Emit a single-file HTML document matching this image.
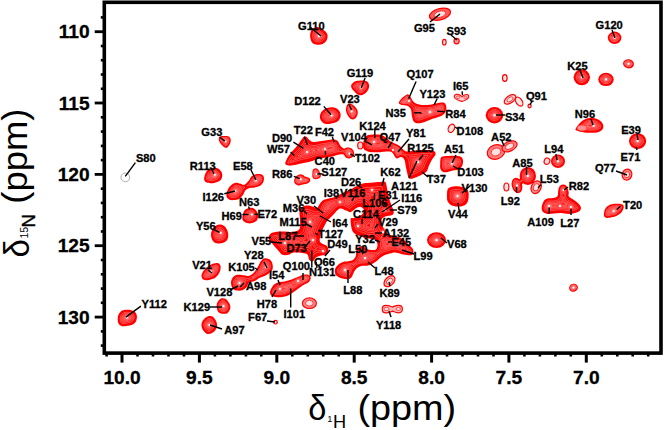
<!DOCTYPE html>
<html><head><meta charset="utf-8"><style>
html,body{margin:0;padding:0;background:#fff;}
body{width:664px;height:430px;overflow:hidden;}
svg{display:block;}
.lab text{font-family:"Liberation Sans",sans-serif;font-weight:bold;font-size:10.8px;fill:#000;stroke:#000;stroke-width:0.3px;}
.tk text{font-family:"Liberation Sans",sans-serif;font-weight:bold;font-size:18.4px;fill:#000;stroke:#000;stroke-width:0.3px;}
.tt text{font-family:"Liberation Sans",sans-serif;font-weight:normal;fill:#000;}
</style></head><body>
<svg width="664" height="430" viewBox="0 0 664 430">
<defs>
<radialGradient id="pc" cx="50%" cy="50%" r="50%">
<stop offset="0" stop-color="#ffd0d0" stop-opacity="0.95"/>
<stop offset="0.35" stop-color="#ff7070" stop-opacity="0.6"/>
<stop offset="1" stop-color="#ff0000" stop-opacity="0"/>
</radialGradient>
<filter id="cont" x="0" y="0" width="664" height="430" filterUnits="userSpaceOnUse" color-interpolation-filters="sRGB">
<feGaussianBlur in="SourceAlpha" stdDeviation="3" result="b"/>
<feComponentTransfer in="b" result="lines">
<feFuncA type="table" tableValues="0 0 0 0 0 0 0 0 0 0.8 0 0.8 0 0.8 0 0.8 0 0.8 0.8 0"/>
</feComponentTransfer>
<feFlood flood-color="#ffb8b8" result="f"/>
<feComposite in="f" in2="lines" operator="in" result="fl"/>
<feComposite in="fl" in2="SourceAlpha" operator="in" result="fl2"/>
<feMerge><feMergeNode in="SourceGraphic"/><feMergeNode in="fl2"/></feMerge>
</filter>
</defs>
<g class="pk">
<g>
<ellipse cx="614.6" cy="37.8" rx="6.8" ry="6.2" fill="#ff0000"/>
<ellipse cx="581.8" cy="77.3" rx="8.2" ry="8.0" fill="#ff0000"/>
<ellipse cx="606.0" cy="79.4" rx="7.7" ry="6.7" fill="#ff0000"/>
<ellipse cx="494.5" cy="115.2" rx="8.8" ry="8.2" fill="#ff0000"/>
<ellipse cx="637.6" cy="141.1" rx="8.6" ry="7.9" fill="#ff0000"/>
<ellipse cx="558.0" cy="161.3" rx="7.0" ry="6.8" fill="#ff0000"/>
<ellipse cx="527.8" cy="175.9" rx="8.2" ry="9.0" fill="#ff0000"/>
<ellipse cx="517.0" cy="185.5" rx="5.2" ry="7.8" transform="rotate(-15 517.0 185.5)" fill="#ff0000"/>
<ellipse cx="436.5" cy="240.1" rx="9.5" ry="7.9" fill="#ff0000"/>
<ellipse cx="573.5" cy="287.7" rx="4.5" ry="4.0" transform="rotate(-20 573.5 287.7)" fill="#ff0000"/>
<ellipse cx="521.5" cy="181.0" rx="3.6" ry="3.0" transform="rotate(-40 521.5 181.0)" fill="#ff0000"/>
<ellipse cx="628.5" cy="63.8" rx="5.5" ry="4.6" transform="rotate(10 628.5 63.8)" fill="#ff0000"/>
<path d="M285.3,163.8 C285.0,162.6 286.1,160.4 287.1,158.4 C288.2,156.4 289.9,154.1 291.6,152.0 C293.3,149.9 295.4,147.8 297.1,145.7 C298.8,143.6 300.4,140.9 301.6,139.4 C302.8,137.9 303.4,136.8 304.3,136.4 C305.2,136.1 306.1,136.7 307.0,137.3 C307.9,138.0 308.6,139.5 309.7,140.3 C310.8,141.1 311.6,141.9 313.3,142.1 C315.0,142.2 317.3,141.5 319.6,141.2 C321.9,140.9 324.6,140.6 326.9,140.3 C329.2,140.0 331.4,139.1 333.2,139.2 C335.0,139.3 336.5,139.9 337.7,141.0 C338.9,142.1 339.3,144.4 340.4,145.7 C341.4,147.0 342.9,148.3 344.0,148.6 C345.1,148.9 345.6,147.6 346.8,147.5 C348.0,147.4 350.1,147.4 351.3,148.2 C352.5,148.9 353.7,150.6 354.0,152.0 C354.3,153.4 353.9,155.5 353.1,156.6 C352.4,157.7 350.7,158.2 349.5,158.4 C348.3,158.6 346.8,158.2 345.8,157.5 C344.8,156.8 344.6,155.0 343.5,154.5 C342.4,154.0 341.1,154.3 339.5,154.5 C337.9,154.7 336.2,155.4 334.1,155.9 C332.0,156.4 329.3,157.1 326.9,157.5 C324.5,157.9 321.7,158.0 319.6,158.4 C317.5,158.8 316.0,159.6 314.2,160.2 C312.4,160.8 310.6,161.6 308.8,162.0 C307.0,162.4 305.5,162.5 303.4,162.9 C301.3,163.3 298.5,164.2 296.1,164.7 C293.7,165.1 290.7,165.8 288.9,165.6 C287.1,165.4 285.6,165.0 285.3,163.8Z" fill="#ff0000"/>
<path d="M363.4,141.7 C363.9,139.7 365.0,137.3 366.2,136.2 C367.4,135.0 368.8,135.1 370.4,134.8 C372.0,134.5 374.0,134.5 375.9,134.5 C377.8,134.5 379.9,134.5 381.5,135.0 C383.1,135.5 384.3,136.6 385.7,137.6 C387.1,138.6 388.3,140.0 389.9,141.0 C391.5,142.0 393.9,143.0 395.5,143.8 C397.1,144.6 398.4,145.0 399.7,145.9 C401.0,146.8 402.0,148.5 403.2,149.4 C404.4,150.3 404.9,151.3 406.6,151.5 C408.3,151.7 411.3,151.0 413.6,150.8 C415.9,150.6 418.0,150.2 420.6,150.1 C423.2,150.0 426.7,149.9 429.0,150.1 C431.3,150.3 433.6,150.7 434.6,151.5 C435.7,152.3 435.8,153.6 435.3,155.0 C434.8,156.4 432.9,158.2 431.8,159.9 C430.8,161.7 429.8,163.6 429.0,165.5 C428.2,167.4 427.8,169.7 426.9,171.1 C426.0,172.5 424.9,172.9 423.4,173.8 C421.9,174.7 419.7,175.8 417.8,176.6 C415.9,177.4 413.7,178.5 412.2,178.7 C410.7,178.9 409.5,178.9 408.7,178.0 C407.9,177.1 407.8,175.0 407.3,173.2 C406.8,171.3 406.4,169.1 405.9,166.9 C405.4,164.7 405.3,161.5 404.5,159.9 C403.7,158.3 402.4,157.3 401.1,157.1 C399.8,156.9 397.9,158.6 396.9,158.5 C395.8,158.4 395.5,157.3 394.8,156.4 C394.1,155.5 393.5,153.7 392.7,152.9 C391.9,152.1 391.1,151.7 389.9,151.5 C388.7,151.3 387.3,151.4 385.7,151.5 C384.1,151.6 382.4,152.1 380.1,152.2 C377.8,152.3 374.0,152.4 371.7,152.2 C369.4,152.0 367.6,151.5 366.2,150.8 C364.8,150.1 363.9,149.5 363.4,148.0 C362.9,146.5 362.9,143.7 363.4,141.7Z" fill="#ff0000"/>
<path d="M268.7,238.0 C268.7,236.2 269.7,233.9 272.0,232.8 C274.3,231.7 279.1,231.6 282.5,231.5 C285.9,231.4 289.9,232.4 292.7,232.0 C295.5,231.6 298.3,231.0 299.5,229.0 C300.7,227.0 300.0,223.0 300.0,220.0 C300.0,217.0 299.1,213.2 299.6,211.0 C300.1,208.8 301.7,207.4 303.0,206.5 C304.3,205.6 305.8,205.5 307.4,205.5 C309.0,205.5 311.1,206.1 312.7,206.5 C314.3,206.9 315.8,208.5 317.0,208.0 C318.2,207.5 318.9,204.8 320.0,203.5 C321.1,202.2 322.0,200.8 323.5,200.0 C325.0,199.2 326.9,199.1 329.0,198.5 C331.1,197.9 333.3,197.6 336.0,196.5 C338.7,195.4 342.8,192.9 345.2,191.8 C347.6,190.7 348.8,190.6 350.5,189.7 C352.2,188.8 354.1,187.4 355.7,186.5 C357.3,185.6 359.0,185.1 360.4,184.5 C361.8,183.9 362.3,183.5 364.1,183.2 C365.9,182.9 368.8,182.9 371.4,182.7 C374.0,182.5 377.5,182.2 379.8,182.1 C382.1,181.9 383.9,181.2 385.0,181.8 C386.1,182.4 385.9,183.1 386.5,185.5 C387.1,187.9 387.8,192.9 388.5,196.0 C389.2,199.1 390.1,201.4 391.0,204.0 C391.9,206.6 393.5,209.5 393.7,211.3 C393.9,213.2 393.6,214.2 392.2,215.1 C390.8,216.0 387.2,215.8 385.4,216.6 C383.6,217.4 382.0,217.9 381.6,219.7 C381.2,221.5 382.0,224.8 383.1,227.2 C384.2,229.6 386.6,232.5 388.4,234.0 C390.2,235.5 392.0,235.4 394.0,236.0 C396.0,236.6 398.1,236.5 400.5,237.8 C402.9,239.1 406.1,242.1 408.1,243.9 C410.1,245.7 411.7,247.0 412.6,248.4 C413.5,249.8 413.6,251.1 413.3,252.2 C413.1,253.3 412.7,254.8 411.1,255.2 C409.5,255.6 406.2,254.9 403.5,254.4 C400.8,253.9 397.0,252.5 394.8,252.4 C392.6,252.3 391.9,253.1 390.1,253.6 C388.4,254.1 386.0,254.5 384.3,255.3 C382.6,256.1 380.9,257.4 379.7,258.3 C378.5,259.2 378.3,259.8 377.3,260.6 C376.3,261.4 375.2,262.1 373.8,262.9 C372.4,263.7 370.8,264.7 369.2,265.2 C367.6,265.7 366.1,265.6 364.5,265.8 C362.9,266.0 361.4,265.7 359.9,266.4 C358.3,267.1 356.6,268.1 355.2,269.9 C353.8,271.6 352.8,275.3 351.7,276.9 C350.6,278.4 349.9,278.9 348.3,279.2 C346.8,279.5 344.3,279.2 342.4,278.6 C340.4,278.0 337.9,276.8 336.6,275.7 C335.4,274.6 335.1,273.5 334.9,272.2 C334.7,270.9 334.8,269.5 335.5,268.1 C336.2,266.8 337.6,265.2 339.0,264.1 C340.4,263.0 342.1,262.2 343.6,261.7 C345.2,261.2 346.8,261.5 348.3,261.2 C349.9,260.9 351.6,260.9 352.9,260.0 C354.1,259.1 355.2,257.5 355.8,255.9 C356.4,254.3 355.9,252.0 356.4,250.5 C356.9,249.0 357.9,247.8 359.0,247.0 C360.1,246.2 361.7,245.7 363.0,246.0 C364.3,246.3 365.5,248.3 367.0,249.0 C368.5,249.7 370.5,249.9 372.0,250.0 C373.5,250.1 375.1,250.3 376.0,249.5 C376.9,248.7 377.5,246.5 377.5,245.0 C377.5,243.5 376.9,241.5 376.0,240.5 C375.1,239.5 373.7,239.3 372.0,239.0 C370.3,238.7 367.6,238.8 366.0,238.5 C364.4,238.2 364.3,237.6 362.7,237.0 C361.1,236.4 358.4,235.9 356.6,234.8 C354.8,233.7 353.1,232.8 352.1,230.2 C351.1,227.6 350.4,221.0 350.6,219.0 C350.9,217.0 352.4,218.4 353.6,218.1 C354.8,217.8 356.6,217.6 358.0,217.0 C359.4,216.4 361.0,215.7 362.0,214.5 C363.0,213.3 364.2,211.3 364.0,210.0 C363.8,208.7 362.3,207.2 360.9,206.9 C359.5,206.7 357.4,207.6 355.7,208.5 C354.0,209.4 352.1,211.8 350.5,212.2 C348.9,212.5 348.1,211.2 346.3,210.6 C344.6,210.0 342.1,207.9 340.0,208.5 C337.9,209.1 335.2,212.8 333.6,214.4 C332.0,216.0 331.1,216.9 330.1,217.9 C329.1,218.9 328.4,219.3 327.5,220.5 C326.6,221.7 325.8,223.3 324.9,224.9 C324.0,226.5 323.0,228.3 322.3,230.1 C321.6,231.8 320.9,233.7 320.5,235.4 C320.1,237.2 319.6,239.3 319.7,240.6 C319.8,241.9 320.2,242.3 321.4,243.2 C322.5,244.1 325.4,244.6 326.6,245.8 C327.8,247.0 328.4,248.8 328.4,250.2 C328.4,251.6 327.8,253.6 326.6,254.5 C325.4,255.4 323.1,255.0 321.4,255.4 C319.7,255.8 317.6,256.2 316.2,257.2 C314.8,258.2 313.9,261.1 312.7,261.5 C311.5,261.9 310.1,261.0 309.2,259.8 C308.3,258.6 308.6,255.6 307.4,254.5 C306.2,253.4 304.4,253.3 302.0,253.0 C299.6,252.7 294.9,252.4 292.7,252.7 C290.5,253.0 290.3,254.5 288.6,254.8 C286.9,255.2 284.2,255.5 282.5,254.8 C280.8,254.1 280.1,252.6 278.4,250.7 C276.7,248.8 273.8,245.6 272.2,243.5 C270.6,241.4 268.7,239.8 268.7,238.0Z" fill="#ff0000"/>
<path d="M541.7,207.0 C541.9,205.3 542.7,202.8 543.6,201.4 C544.5,200.0 545.8,199.2 547.3,198.6 C548.8,198.0 551.2,198.5 552.9,198.1 C554.6,197.7 556.6,197.8 557.5,196.3 C558.4,194.8 557.9,191.1 558.4,189.3 C558.9,187.5 559.4,186.4 560.3,185.6 C561.2,184.8 562.5,184.4 563.6,184.6 C564.7,184.8 565.9,185.2 566.8,186.5 C567.6,187.8 568.4,190.5 568.7,192.1 C569.0,193.7 568.1,195.2 568.7,196.3 C569.3,197.5 571.0,198.0 572.4,199.0 C573.8,200.0 575.6,201.0 577.0,202.3 C578.4,203.6 580.3,205.6 580.8,207.0 C581.3,208.4 580.7,209.7 579.8,210.7 C578.9,211.7 577.1,212.5 575.2,213.0 C573.4,213.5 571.0,213.9 568.7,213.9 C566.4,213.9 563.7,213.1 561.2,213.0 C558.7,212.9 556.1,213.3 553.8,213.5 C551.5,213.7 549.2,214.2 547.3,213.9 C545.4,213.6 543.5,212.8 542.6,211.6 C541.7,210.4 541.5,208.7 541.7,207.0Z" fill="#ff0000"/>
<path d="M310.5,32.6 C310.8,31.5 311.2,30.3 312.0,29.5 C312.8,28.7 313.9,28.0 315.0,27.6 C316.1,27.2 317.1,26.9 318.5,27.3 C319.9,27.7 321.8,28.9 323.1,29.8 C324.5,30.7 325.9,31.8 326.6,32.9 C327.4,33.9 327.6,34.9 327.6,36.1 C327.6,37.3 327.4,39.0 326.6,40.3 C325.9,41.6 324.5,43.0 323.1,43.8 C321.7,44.5 319.7,44.8 318.2,44.8 C316.7,44.8 315.2,44.7 314.0,44.1 C312.8,43.5 311.8,42.3 311.2,41.0 C310.6,39.7 310.2,37.5 310.1,36.1 C310.0,34.7 310.2,33.7 310.5,32.6Z" fill="#ff0000"/>
<path d="M441.4,157.0 C442.8,155.7 445.6,156.1 448.4,155.9 C451.2,155.8 455.8,155.7 458.1,156.1 C460.4,156.5 461.5,157.1 462.3,158.2 C463.1,159.3 463.1,161.1 463.0,162.5 C462.9,163.9 462.4,165.5 461.6,166.7 C460.8,167.9 459.9,168.8 458.1,169.5 C456.4,170.2 453.4,170.4 451.1,170.9 C448.8,171.4 445.9,172.5 444.2,172.3 C442.5,172.1 441.4,170.9 440.7,169.5 C440.0,168.1 440.1,166.0 440.2,163.9 C440.3,161.8 440.0,158.3 441.4,157.0Z" fill="#ff0000"/>
<path d="M448.4,188.3 C449.8,186.9 453.0,186.4 455.3,186.2 C457.6,186.0 460.2,186.2 462.3,186.9 C464.4,187.6 466.8,188.7 467.9,190.4 C468.9,192.2 468.8,195.2 468.6,197.4 C468.4,199.6 467.8,202.2 466.5,203.7 C465.2,205.2 463.2,206.1 460.9,206.4 C458.6,206.7 454.7,206.5 452.5,205.7 C450.3,204.9 448.6,203.4 447.7,201.6 C446.8,199.8 446.9,196.8 447.0,194.6 C447.1,192.4 447.0,189.7 448.4,188.3Z" fill="#ff0000"/>
<path d="M201.5,275.7 C201.5,274.3 202.3,272.6 203.4,271.0 C204.5,269.4 206.3,267.6 208.0,266.4 C209.7,265.2 211.9,264.1 213.6,263.6 C215.3,263.1 217.1,262.7 218.3,263.2 C219.5,263.7 220.4,264.9 220.6,266.4 C220.8,267.9 220.4,270.1 219.6,272.0 C218.8,273.9 217.3,276.2 215.5,277.5 C213.7,278.8 211.0,279.6 209.0,280.0 C207.0,280.4 204.7,280.3 203.4,279.6 C202.2,278.9 201.5,277.1 201.5,275.7Z" fill="#ff0000"/>
<path d="M217.3,302.7 C218.0,301.2 219.6,299.2 221.0,298.6 C222.4,298.0 224.3,298.1 225.7,298.9 C227.1,299.7 228.6,302.1 229.4,303.6 C230.2,305.2 230.6,306.6 230.3,308.2 C230.0,309.8 228.8,312.0 227.6,312.9 C226.4,313.8 224.4,313.9 222.9,313.8 C221.4,313.7 219.3,313.1 218.3,312.0 C217.3,310.9 217.0,308.9 216.8,307.3 C216.6,305.8 216.6,304.1 217.3,302.7Z" fill="#ff0000"/>
<path d="M202.4,321.3 C203.2,319.9 204.8,318.1 206.2,317.2 C207.6,316.3 209.4,315.8 210.8,316.0 C212.2,316.2 213.5,317.2 214.5,318.5 C215.5,319.8 216.8,322.1 217.0,324.0 C217.2,325.9 216.7,328.1 215.8,329.6 C214.9,331.2 213.1,332.6 211.7,333.3 C210.2,334.0 208.5,334.3 207.1,333.9 C205.7,333.4 204.3,331.9 203.4,330.6 C202.5,329.3 201.7,327.4 201.5,325.9 C201.3,324.3 201.6,322.8 202.4,321.3Z" fill="#ff0000"/>
<path d="M231.0,282.1 C231.1,280.2 232.3,277.9 233.4,276.7 C234.5,275.5 235.7,274.9 237.5,274.7 C239.3,274.5 242.5,275.1 244.3,275.3 C246.1,275.5 247.0,276.2 248.3,276.0 C249.7,275.8 251.2,275.0 252.4,274.0 C253.7,273.0 254.8,271.3 255.8,269.9 C256.8,268.5 257.7,267.1 258.5,265.8 C259.3,264.5 259.6,263.0 260.5,261.8 C261.4,260.6 262.5,258.8 263.9,258.4 C265.3,257.9 267.3,258.4 268.7,259.1 C270.1,259.8 271.3,260.9 272.0,262.5 C272.7,264.1 273.0,266.9 272.7,268.6 C272.4,270.3 271.4,271.4 270.0,272.6 C268.6,273.8 266.4,275.1 264.6,276.0 C262.8,276.9 260.8,277.2 259.2,278.0 C257.6,278.8 256.5,280.1 255.1,280.8 C253.7,281.5 252.1,281.7 251.0,282.1 C249.9,282.5 249.0,282.2 248.3,283.0 C247.6,283.8 247.9,285.4 247.0,286.6 C246.1,287.8 244.5,289.3 242.9,290.0 C241.3,290.7 239.2,290.9 237.5,290.6 C235.8,290.3 233.8,289.8 232.7,288.4 C231.6,287.0 230.9,284.1 231.0,282.1Z" fill="#ff0000"/>
<path d="M270.0,292.3 C270.0,291.1 270.6,289.6 271.4,288.2 C272.2,286.8 273.4,285.1 274.8,284.1 C276.2,283.1 277.8,282.6 279.5,282.1 C281.2,281.7 282.9,281.8 284.9,281.4 C286.9,280.9 289.4,280.2 291.7,279.4 C294.0,278.6 296.6,277.5 298.5,276.7 C300.4,275.9 301.6,275.0 303.2,274.7 C304.8,274.4 306.8,274.2 308.0,274.7 C309.2,275.1 310.5,276.3 310.7,277.4 C310.9,278.5 310.2,280.3 309.3,281.4 C308.4,282.5 306.9,283.1 305.3,284.1 C303.7,285.1 301.6,286.2 299.8,287.5 C298.0,288.8 296.2,290.4 294.4,291.6 C292.6,292.9 291.0,294.1 289.0,295.0 C287.0,295.9 284.5,296.7 282.2,297.0 C279.9,297.3 277.2,297.2 275.4,297.0 C273.6,296.8 272.3,296.5 271.4,295.7 C270.5,294.9 270.0,293.6 270.0,292.3Z" fill="#ff0000"/>
<path d="M117.7,318.7 C117.8,317.1 118.2,315.1 119.0,313.8 C119.8,312.5 121.0,311.3 122.2,310.6 C123.4,309.9 124.8,309.9 126.3,309.8 C127.8,309.7 129.7,309.8 131.2,310.2 C132.7,310.6 134.2,311.2 135.2,312.2 C136.1,313.2 136.8,314.8 136.9,316.3 C137.0,317.8 136.7,319.9 136.0,321.2 C135.3,322.5 134.4,323.6 132.8,324.4 C131.2,325.2 128.2,325.7 126.3,326.0 C124.4,326.3 122.7,326.4 121.4,326.0 C120.1,325.6 119.1,324.8 118.5,323.6 C117.9,322.4 117.6,320.3 117.7,318.7Z" fill="#ff0000"/>
<path d="M604.0,213.8 C604.1,212.6 604.3,210.7 604.9,209.4 C605.5,208.2 606.2,207.2 607.4,206.3 C608.5,205.5 610.2,204.7 611.8,204.3 C613.4,203.9 615.1,203.8 616.8,203.8 C618.5,203.8 620.6,203.9 621.8,204.3 C622.9,204.7 623.5,205.5 623.7,206.3 C623.9,207.2 623.6,208.2 623.1,209.4 C622.6,210.6 621.7,212.1 620.6,213.2 C619.5,214.2 618.3,215.0 616.8,215.7 C615.3,216.4 613.5,216.9 611.8,217.3 C610.1,217.7 608.0,218.0 606.8,217.9 C605.5,217.8 604.8,217.3 604.3,216.6 C603.8,215.9 603.9,215.0 604.0,213.8Z" fill="#ff0000"/>
<path d="M204.2,177.9 C204.4,176.5 204.9,174.2 205.8,172.7 C206.7,171.2 208.0,169.9 209.5,169.0 C211.0,168.1 213.1,167.3 214.8,167.4 C216.5,167.5 218.3,168.4 219.5,169.5 C220.7,170.6 221.8,172.2 222.1,173.7 C222.4,175.2 222.2,177.1 221.6,178.4 C221.0,179.7 219.9,180.8 218.4,181.6 C216.9,182.4 214.5,183.0 212.7,183.2 C210.9,183.4 208.7,183.0 207.4,182.7 C206.1,182.3 205.2,181.9 204.7,181.1 C204.2,180.3 204.0,179.3 204.2,177.9Z" fill="#ff0000"/>
<path d="M226.4,195.8 C226.2,194.1 227.0,191.3 227.9,189.5 C228.8,187.7 230.3,185.9 231.6,184.8 C232.9,183.7 234.3,182.9 235.8,182.7 C237.3,182.5 239.2,183.3 240.6,183.7 C242.0,184.0 243.0,185.2 244.3,184.8 C245.6,184.4 247.3,182.5 248.5,181.1 C249.7,179.7 250.5,177.5 251.7,176.3 C252.9,175.2 254.3,174.5 255.9,174.2 C257.5,173.8 259.8,173.8 261.1,174.2 C262.4,174.6 263.4,175.6 263.8,176.9 C264.2,178.2 263.9,180.6 263.3,182.1 C262.7,183.6 261.5,184.9 260.1,185.8 C258.7,186.7 256.6,187.1 254.8,187.4 C253.0,187.8 251.1,187.4 249.5,187.9 C247.9,188.4 246.4,189.4 245.3,190.6 C244.2,191.8 244.2,193.4 243.2,194.8 C242.1,196.2 240.6,198.1 239.0,199.0 C237.4,199.9 235.4,200.0 233.7,200.1 C232.0,200.2 230.2,200.2 229.0,199.5 C227.8,198.8 226.6,197.5 226.4,195.8Z" fill="#ff0000"/>
<path d="M294.5,178.9 C294.9,178.0 295.6,176.8 296.5,176.0 C297.4,175.2 298.6,174.6 299.7,174.4 C300.8,174.2 302.1,174.6 303.0,175.0 C303.9,175.4 304.1,176.2 304.9,176.6 C305.6,177.0 306.6,176.9 307.5,177.3 C308.4,177.7 309.7,178.2 310.1,178.9 C310.5,179.6 310.2,180.7 309.8,181.5 C309.4,182.3 308.6,183.0 307.5,183.5 C306.4,184.0 304.5,184.1 303.0,184.4 C301.5,184.7 299.7,185.5 298.4,185.4 C297.1,185.3 295.9,184.5 295.2,183.8 C294.5,183.2 294.3,182.3 294.2,181.5 C294.1,180.7 294.1,179.8 294.5,178.9Z" fill="#ff0000"/>
<path d="M312.4,173.4 C312.4,172.1 312.5,170.7 313.0,169.8 C313.5,168.9 314.5,168.3 315.3,168.2 C316.1,168.1 317.1,168.5 317.9,169.2 C318.7,169.9 319.4,171.3 319.9,172.4 C320.4,173.5 321.0,174.7 320.9,175.7 C320.8,176.7 320.1,177.7 319.2,178.3 C318.3,178.9 316.4,179.3 315.3,179.2 C314.2,179.1 313.2,178.6 312.7,177.6 C312.2,176.6 312.3,174.7 312.4,173.4Z" fill="#ff0000"/>
<path d="M351.1,85.8 C351.2,84.8 352.0,83.8 352.8,83.0 C353.6,82.2 354.7,81.5 356.2,81.1 C357.7,80.7 359.9,80.5 361.7,80.5 C363.5,80.5 365.6,80.6 366.8,81.3 C368.0,82.0 368.7,83.4 369.0,84.7 C369.3,86.0 369.0,87.8 368.4,89.2 C367.8,90.6 366.8,92.1 365.6,93.1 C364.4,94.1 362.6,95.1 361.2,95.3 C359.8,95.5 358.4,94.8 357.3,94.2 C356.2,93.6 355.3,92.2 354.5,91.4 C353.7,90.6 352.9,90.1 352.3,89.2 C351.7,88.3 351.0,86.8 351.1,85.8Z" fill="#ff0000"/>
<path d="M320.5,113.7 C321.0,112.6 321.6,111.4 322.7,110.4 C323.8,109.4 325.5,108.4 327.2,107.9 C328.9,107.4 330.9,107.0 332.7,107.2 C334.5,107.4 336.5,108.1 337.8,109.2 C339.1,110.3 340.1,112.2 340.5,113.7 C340.9,115.2 340.6,116.8 340.0,118.2 C339.4,119.6 338.2,121.2 336.6,122.1 C335.0,123.0 332.4,123.4 330.5,123.7 C328.6,124.0 326.5,124.2 324.9,123.7 C323.3,123.2 321.8,121.5 321.0,120.4 C320.2,119.3 320.0,118.1 319.9,117.0 C319.8,115.9 320.0,114.8 320.5,113.7Z" fill="#ff0000"/>
<path d="M346.1,108.1 C346.3,107.0 346.6,105.6 347.2,104.8 C347.8,104.0 348.6,103.4 349.5,103.4 C350.4,103.4 351.7,104.0 352.8,104.8 C353.9,105.6 355.4,106.9 356.2,108.1 C357.0,109.3 357.7,110.6 357.8,112.0 C357.9,113.4 357.4,115.3 356.7,116.5 C356.0,117.7 354.9,118.9 353.9,119.3 C352.9,119.7 351.6,119.3 350.6,118.7 C349.6,118.1 348.6,116.6 347.8,115.4 C347.1,114.2 346.4,112.7 346.1,111.5 C345.8,110.3 345.9,109.2 346.1,108.1Z" fill="#ff0000"/>
<path d="M219.0,137.5 C219.4,136.9 220.5,136.3 221.5,136.1 C222.5,135.8 223.8,135.9 225.0,136.0 C226.2,136.1 227.8,135.9 228.7,136.4 C229.6,136.9 230.5,138.0 230.7,139.2 C230.9,140.4 230.6,142.3 230.1,143.6 C229.6,144.9 228.4,146.5 227.6,147.2 C226.8,147.9 226.2,148.0 225.4,147.8 C224.6,147.6 223.5,146.7 222.6,145.8 C221.7,144.9 220.4,143.5 219.8,142.5 C219.2,141.5 218.9,140.5 218.8,139.7 C218.7,138.9 218.6,138.1 219.0,137.5Z" fill="#ff0000"/>
<path d="M242.4,216.7 C242.6,215.2 243.2,212.6 244.0,211.2 C244.8,209.8 246.1,209.0 247.4,208.4 C248.7,207.8 250.4,207.5 251.8,207.8 C253.2,208.1 254.7,208.9 255.7,210.0 C256.7,211.1 257.7,212.9 258.0,214.5 C258.3,216.1 258.0,218.2 257.4,219.5 C256.8,220.8 255.4,221.7 254.1,222.3 C252.8,223.0 251.1,223.4 249.6,223.4 C248.1,223.4 246.2,222.9 245.1,222.3 C243.9,221.8 243.1,221.0 242.7,220.1 C242.2,219.2 242.2,218.2 242.4,216.7Z" fill="#ff0000"/>
<path d="M211.1,233.5 C211.3,231.9 212.0,230.3 212.8,229.0 C213.7,227.7 214.9,226.3 216.2,225.6 C217.5,224.8 219.1,224.3 220.6,224.5 C222.1,224.7 223.9,225.5 225.1,226.8 C226.3,228.1 227.4,230.5 227.9,232.3 C228.4,234.2 228.4,236.3 227.9,237.9 C227.4,239.5 226.5,240.9 225.1,241.8 C223.7,242.7 221.3,243.4 219.5,243.5 C217.7,243.6 215.8,243.2 214.5,242.4 C213.2,241.6 212.3,240.0 211.7,238.5 C211.1,237.0 210.9,235.1 211.1,233.5Z" fill="#ff0000"/>
<path d="M398.8,102.8 C398.9,101.6 400.6,99.4 402.0,98.0 C403.4,96.6 405.9,94.7 407.2,94.4 C408.5,94.1 408.9,95.0 410.0,96.3 C411.1,97.5 412.0,100.5 413.7,101.9 C415.4,103.3 417.6,104.2 420.3,104.7 C423.0,105.2 426.8,105.0 429.6,104.7 C432.4,104.5 434.7,103.6 437.0,103.2 C439.3,102.8 441.9,102.0 443.5,102.6 C445.1,103.1 446.0,104.9 446.3,106.5 C446.6,108.1 446.2,110.5 445.4,112.1 C444.6,113.6 443.7,114.7 441.7,115.8 C439.7,116.9 435.9,117.7 433.3,118.6 C430.7,119.5 428.3,120.6 425.8,121.4 C423.3,122.2 420.4,123.3 418.4,123.3 C416.4,123.3 414.8,122.7 413.7,121.4 C412.6,120.2 412.4,117.8 411.9,115.8 C411.4,113.8 411.7,111.0 410.9,109.3 C410.1,107.6 408.8,106.5 407.2,105.8 C405.6,105.1 403.0,105.5 401.6,105.0 C400.2,104.5 398.7,104.0 398.8,102.8Z" fill="#ff0000"/>
<path d="M575.3,129.4 C578,124 583,119 589,118 C596,117 603,121 603.4,126.2 C603.5,131 598,133 592,132.8 C585,132.6 578,132 575.3,129.4 Z" fill="#ff0000"/>
</g>
<path fill="none" stroke="#ffe0e0" stroke-opacity="0.6" stroke-width="0.6" d="M319.5,41.8 316.5,41.9 315.0,41.4 314.1,40.5 313.4,39.2 312.8,37.0 312.6,35.2 313.5,31.8 314.5,30.8 316.8,29.8 317.8,29.9 322.2,32.6 323.8,33.8 324.7,35.2 324.7,37.0 324.4,38.0 323.4,39.8 321.8,41.2 319.5,41.8 M615.0,41.8 614.0,41.8 612.5,41.3 611.0,40.5 610.3,39.5 609.8,37.8 609.9,36.8 610.5,35.5 611.8,34.2 613.5,33.7 615.5,33.7 617.4,34.5 618.5,35.5 619.1,37.0 619.1,38.5 618.2,40.2 616.8,41.2 615.0,41.8 M629.0,66.8 626.5,66.2 625.0,65.0 624.4,63.2 625.2,61.5 627.2,60.7 628.8,60.6 630.5,61.3 631.7,62.2 632.4,64.0 631.7,65.5 630.2,66.5 629.0,66.8 M582.0,82.5 579.5,82.1 578.2,81.2 577.2,80.2 576.2,78.0 576.4,75.5 577.6,73.5 579.8,72.2 581.5,71.9 583.5,72.2 585.2,73.1 586.7,75.0 587.3,77.0 586.8,79.0 586.1,80.2 584.8,81.6 582.0,82.5 M607.0,83.5 605.0,83.6 603.0,83.0 601.6,82.0 600.6,80.2 600.6,78.2 601.1,77.2 602.3,76.0 604.0,75.1 606.5,74.8 608.8,75.6 610.5,77.1 611.1,78.2 611.3,79.2 611.1,80.2 610.1,82.0 608.8,83.0 607.0,83.5 M361.5,92.5 360.2,92.7 358.0,91.7 354.0,87.5 353.5,86.5 353.5,85.8 354.8,84.3 357.0,83.3 359.8,82.8 363.2,82.8 364.8,83.1 365.7,83.5 366.5,85.2 366.4,86.8 365.9,88.2 364.9,90.0 363.7,91.2 361.5,92.5 M419.0,120.0 417.8,120.2 416.2,119.7 415.7,119.0 414.6,114.5 413.9,109.2 413.2,107.5 412.0,106.0 410.0,104.5 407.3,103.5 403.0,103.4 401.2,103.0 400.5,102.6 401.8,100.5 404.5,97.8 406.5,96.4 407.5,96.0 408.0,96.5 409.4,99.0 410.7,102.0 412.7,104.5 415.0,106.0 419.2,107.5 421.8,107.8 426.8,107.8 430.0,107.5 432.2,107.1 441.0,104.8 442.5,104.8 443.0,105.0 443.5,105.8 443.9,107.5 443.5,110.0 442.2,112.2 441.0,113.1 439.2,113.9 431.5,115.9 420.8,119.7 419.0,120.0 M353.2,117.4 353.0,117.5 351.8,117.1 350.5,116.0 349.3,114.2 348.0,111.5 347.8,110.5 348.0,107.5 348.5,106.0 349.2,105.2 349.8,105.2 351.0,105.8 353.2,107.5 355.0,109.8 355.6,111.0 355.8,113.0 355.6,114.0 354.2,116.5 353.2,117.4 M495.8,120.3 493.5,120.4 491.2,119.7 489.3,118.0 488.3,115.5 488.8,113.0 489.8,111.5 491.2,110.4 493.8,109.6 495.0,109.6 496.5,110.0 498.8,111.3 500.0,113.0 500.4,114.8 500.2,116.2 499.5,118.0 497.5,119.7 495.8,120.3 M328.0,121.0 326.8,121.2 325.5,120.9 324.2,120.0 322.9,118.2 322.6,117.2 322.6,115.8 323.2,114.0 324.0,112.8 325.0,111.8 326.8,110.8 330.5,109.8 332.5,109.8 333.5,110.1 336.0,111.3 337.3,113.2 337.9,115.0 337.2,117.2 336.0,118.9 335.0,119.6 333.5,120.2 330.0,120.9 328.0,121.0 M595.0,130.0 589.0,130.1 588.0,129.9 586.0,129.9 581.0,129.2 578.3,128.5 580.6,125.5 582.1,124.0 586.0,121.4 589.2,120.4 592.5,120.4 595.5,121.1 598.5,122.7 599.8,124.0 600.6,125.8 600.6,127.0 599.8,128.3 598.2,129.2 595.0,130.0 M637.5,146.3 635.2,145.8 633.2,144.6 632.0,143.0 631.5,141.2 631.9,139.2 632.6,138.0 634.2,136.7 636.8,135.7 639.0,135.9 641.6,137.2 643.0,139.0 643.4,141.0 643.1,142.8 642.0,144.4 640.0,145.7 637.5,146.3 M411.5,175.1 411.2,175.0 411.1,172.5 409.3,164.0 408.9,161.0 408.0,158.5 406.2,156.2 403.8,154.8 401.2,154.5 400.0,154.7 397.0,156.2 394.6,151.8 393.8,150.8 392.0,149.4 390.5,148.8 384.8,148.4 379.5,149.1 372.2,149.1 368.5,148.4 367.2,147.9 366.5,147.4 366.1,146.8 365.8,144.2 366.6,141.0 368.0,138.5 369.5,137.9 372.8,137.4 378.2,137.4 380.5,137.9 382.5,139.0 386.0,141.9 388.5,143.6 395.0,145.9 398.5,147.5 402.7,152.5 404.7,154.2 405.8,154.7 409.8,155.2 421.8,153.7 429.8,153.5 432.4,153.8 429.2,157.0 427.5,159.2 424.9,164.2 423.2,168.9 417.5,172.3 411.5,175.1 M226.0,145.9 224.8,145.4 222.0,142.6 220.8,140.8 220.3,139.0 220.5,138.3 222.2,137.6 227.0,137.6 227.8,137.8 228.5,138.6 228.9,139.8 228.9,140.5 228.4,142.5 226.8,145.4 226.0,145.9 M289.8,162.8 287.8,162.8 287.9,162.2 289.2,159.8 293.8,154.2 300.0,147.8 302.6,144.0 305.0,139.9 305.8,141.1 307.8,143.4 310.0,144.9 312.0,145.5 316.0,145.4 321.2,144.0 328.2,142.9 332.2,141.9 334.2,142.2 335.8,143.2 337.9,147.2 340.8,149.8 342.5,150.6 343.5,150.7 345.2,150.4 347.0,149.3 349.0,149.1 350.0,149.4 351.0,150.1 352.2,152.2 352.2,153.8 351.5,155.5 350.8,156.1 349.8,156.4 348.5,156.5 347.0,155.9 345.6,153.5 344.8,152.6 343.8,151.9 340.0,151.5 337.0,151.9 326.2,154.5 317.5,155.0 308.9,158.0 301.5,159.4 295.2,161.4 289.8,162.8 M558.8,165.6 557.2,165.7 555.2,164.9 553.8,163.5 553.1,161.8 553.1,160.8 553.6,159.2 554.2,158.3 555.5,157.2 557.5,156.6 559.2,156.8 560.7,157.5 562.2,159.2 562.7,160.8 562.4,162.5 561.8,163.7 560.5,164.9 558.8,165.6 M445.0,169.5 444.5,169.6 443.7,169.2 442.7,167.5 442.7,160.5 443.0,159.0 443.2,158.8 444.5,158.4 454.5,158.2 458.2,158.7 460.0,159.5 460.4,160.5 460.4,162.0 460.1,163.5 459.3,165.2 458.2,166.2 456.0,167.3 450.5,168.1 445.0,169.5 M315.5,177.8 314.0,177.1 313.6,175.2 313.9,171.8 314.1,170.8 314.8,170.0 315.5,169.7 316.5,170.1 317.8,171.5 319.2,174.5 319.3,175.5 318.5,176.9 317.2,177.5 315.5,177.8 M518.2,191.1 517.5,191.1 515.8,190.0 514.8,188.8 514.0,187.0 513.5,185.5 513.3,183.8 513.5,182.5 514.0,181.0 515.2,180.0 516.2,180.1 518.5,181.3 519.8,181.4 520.8,181.0 521.9,180.0 522.5,179.0 522.3,174.8 522.9,172.8 524.0,171.3 525.8,170.0 527.0,169.6 528.2,169.6 530.2,170.3 531.0,170.8 532.0,172.0 532.7,173.5 533.2,175.2 532.7,178.2 532.2,179.2 531.0,180.7 528.5,181.9 527.0,181.9 524.5,180.9 523.5,180.7 522.2,180.8 520.5,181.8 519.8,182.6 519.4,183.8 519.9,187.0 519.9,189.2 519.2,190.5 518.2,191.1 M212.2,180.6 209.2,180.4 207.2,179.9 206.8,179.6 206.6,177.8 207.2,175.5 208.5,173.0 209.8,171.7 213.0,170.1 213.8,169.9 215.2,169.9 217.2,171.0 219.0,173.0 219.6,174.8 219.3,176.5 218.8,177.8 217.0,179.3 214.8,180.1 212.2,180.6 M247.8,185.8 247.2,186.0 247.0,185.8 249.3,183.5 252.6,178.2 253.8,177.1 256.0,176.2 258.5,175.8 259.8,176.0 261.2,176.7 261.8,178.2 261.3,181.0 260.4,182.5 259.2,183.6 258.0,184.3 255.5,185.0 253.8,185.3 251.0,185.2 247.8,185.8 M299.5,183.3 298.0,183.4 297.5,183.2 296.3,182.5 295.8,181.5 295.8,180.0 296.8,178.1 298.0,176.8 299.2,176.2 301.2,176.2 302.2,176.6 303.4,177.8 304.8,178.4 307.0,178.9 308.5,179.8 307.8,181.0 306.5,181.8 302.5,182.5 299.5,183.3 M232.5,197.6 230.2,197.1 229.5,196.6 229.0,195.8 228.9,194.2 230.4,190.0 231.8,188.0 233.0,186.8 235.0,185.5 236.5,185.2 240.2,186.3 242.0,187.1 244.8,187.2 242.8,189.2 242.1,190.2 240.8,193.4 238.5,195.9 236.5,197.0 232.5,197.6 M347.2,276.3 345.8,276.3 343.5,275.8 340.2,274.5 338.2,273.2 337.5,271.0 337.7,270.0 338.7,268.2 339.8,267.1 341.5,265.7 344.0,264.5 350.8,263.7 353.0,263.0 354.4,262.2 356.6,260.0 358.2,257.2 358.7,255.8 358.9,251.5 359.9,249.8 360.8,249.0 362.0,248.6 364.8,251.1 366.2,251.8 368.2,252.4 370.5,252.7 375.8,252.8 377.2,252.2 379.1,250.5 379.7,249.5 380.5,246.8 380.6,243.5 380.0,240.8 379.1,238.8 377.0,236.2 374.8,235.1 371.8,234.5 368.0,234.4 366.5,234.1 364.2,232.8 359.8,231.5 357.2,230.4 356.0,229.3 355.6,228.5 354.6,224.8 354.2,221.5 356.8,221.5 359.0,221.1 361.8,220.0 363.0,219.2 364.6,218.0 366.1,216.2 367.8,213.8 368.4,212.2 368.8,209.2 368.4,207.5 367.0,205.0 364.8,203.1 362.0,202.1 358.0,202.6 355.8,203.7 353.0,205.5 349.8,208.5 344.8,205.9 343.0,205.2 340.5,205.1 338.5,205.4 336.0,207.1 331.2,212.1 324.4,217.8 323.0,219.5 320.6,223.2 318.5,227.4 317.3,230.2 315.6,236.2 315.3,238.2 315.3,241.2 315.7,243.0 316.6,244.5 317.4,245.2 319.5,246.3 324.0,247.5 324.8,248.1 325.5,249.5 325.4,251.0 324.8,252.1 320.8,251.9 318.2,252.2 316.0,252.9 313.9,254.2 312.7,255.8 311.5,258.1 311.4,254.5 310.5,252.1 308.8,250.2 305.5,248.9 298.0,248.1 293.2,248.4 289.8,249.4 287.6,251.0 287.0,251.2 285.0,251.5 283.5,251.0 280.5,247.2 272.4,238.8 271.6,237.8 271.9,237.0 272.6,236.0 273.8,235.6 280.2,235.0 283.5,235.0 287.8,235.6 294.0,235.9 298.0,235.2 300.9,233.8 303.0,231.5 304.1,228.8 304.4,226.8 304.3,223.2 304.0,221.8 304.0,217.5 303.3,212.2 303.5,211.5 304.1,210.5 305.2,209.5 307.2,209.2 311.2,210.3 314.8,212.0 318.0,211.9 319.4,211.2 320.7,209.8 322.6,205.0 324.0,203.1 325.2,202.3 338.0,199.0 346.1,195.0 353.5,192.4 357.5,190.3 363.8,188.0 365.8,187.5 372.5,187.3 377.0,186.7 379.8,186.6 382.0,186.2 382.6,192.2 384.2,199.5 386.3,205.0 389.6,211.5 389.5,211.7 385.2,211.7 383.0,212.3 380.7,213.5 378.4,215.5 377.3,217.8 377.0,219.2 377.1,222.5 378.2,226.8 380.4,230.8 383.0,233.6 386.5,236.7 388.2,237.8 390.2,238.5 397.8,240.0 400.5,241.3 407.0,246.3 410.2,249.2 411.0,250.8 410.9,252.0 410.2,252.8 408.8,252.8 402.2,251.1 396.5,249.3 393.8,249.1 392.0,249.2 388.0,250.6 384.2,251.6 381.0,253.3 377.8,255.9 375.4,258.2 374.2,259.1 368.9,262.0 365.5,262.8 360.0,263.1 358.0,263.8 355.9,265.0 354.2,266.3 352.2,268.6 349.0,275.2 348.2,275.9 347.2,276.3 M549.5,211.1 548.2,211.2 545.5,210.6 544.7,210.0 544.3,209.2 544.2,207.0 544.8,204.8 545.6,203.0 546.7,201.8 548.2,201.0 549.0,200.9 553.0,201.1 554.5,200.9 557.1,200.2 558.8,199.3 560.0,197.9 560.8,195.8 560.5,190.5 560.7,188.5 561.5,187.1 562.8,186.4 564.6,187.0 565.4,189.0 565.9,192.8 565.6,193.8 565.4,196.2 566.5,198.7 568.2,200.2 574.2,203.8 577.2,206.5 578.1,208.0 577.2,209.0 575.2,209.8 569.0,210.9 562.5,209.8 557.8,209.8 552.2,210.5 549.5,211.1 M460.5,202.8 459.5,203.0 457.0,203.0 454.0,202.4 452.2,201.7 451.0,200.5 450.2,198.2 450.3,193.0 450.5,191.2 450.9,190.5 454.5,189.5 458.8,189.5 461.5,190.2 464.5,191.8 465.2,194.0 465.2,195.5 465.0,197.8 464.3,200.2 463.7,201.2 462.8,202.0 462.0,202.4 460.5,202.8 M607.2,215.8 606.2,215.6 605.9,215.2 606.2,211.8 606.5,210.5 607.6,208.8 609.0,207.6 612.2,206.2 615.8,205.7 620.0,205.9 621.0,206.2 621.4,206.5 621.3,207.8 620.2,209.9 619.0,211.5 617.5,212.7 616.0,213.6 613.2,214.6 610.5,215.3 607.2,215.8 M251.0,220.6 248.5,220.6 246.8,220.2 245.0,219.0 244.6,218.0 245.5,214.0 246.5,211.8 248.2,210.7 250.0,210.1 250.8,210.1 252.2,210.6 253.2,211.2 254.2,212.2 255.4,215.0 255.4,216.8 254.8,218.5 253.2,219.7 251.0,220.6 M219.2,240.5 217.2,240.3 215.6,239.5 214.5,237.8 214.0,236.2 213.7,234.2 214.5,231.7 216.2,229.0 218.2,227.6 220.0,227.2 222.0,228.0 223.3,229.2 224.8,232.5 225.3,234.5 225.3,235.8 224.6,237.8 223.8,238.9 222.2,239.8 219.2,240.5 M436.5,245.3 433.2,244.6 431.4,243.5 430.5,242.6 429.9,241.5 429.5,240.0 429.9,238.2 431.5,236.4 432.5,235.7 435.5,234.7 437.2,234.7 438.2,235.0 440.2,235.7 441.1,236.2 442.6,237.8 443.3,240.0 442.8,241.8 441.4,243.5 439.5,244.6 436.5,245.3 M240.2,287.8 238.5,288.0 235.8,287.3 235.0,286.8 234.2,285.8 233.8,284.2 233.5,282.2 234.3,279.8 235.8,277.9 237.5,277.3 239.5,277.3 243.5,277.8 246.8,278.5 248.8,278.4 250.5,277.8 253.2,276.0 254.8,274.8 255.8,273.5 260.1,267.5 262.5,262.8 264.2,260.7 264.8,260.5 265.8,260.5 267.2,261.0 269.0,262.2 269.8,263.5 270.3,265.5 270.3,267.8 269.8,269.2 268.3,270.8 264.2,273.3 257.5,276.1 254.0,278.7 247.2,280.3 245.7,281.8 244.6,285.0 243.9,285.8 242.0,287.3 240.2,287.8 M207.5,277.8 205.8,277.9 204.5,277.6 204.0,277.0 203.6,275.8 204.0,274.2 205.8,271.3 208.3,268.8 211.5,266.7 214.2,265.6 216.5,265.1 217.0,265.1 217.7,265.5 218.2,266.2 218.2,267.0 217.9,269.5 216.8,272.2 215.2,274.4 214.4,275.2 212.5,276.4 210.5,277.1 207.5,277.8 M279.5,294.6 275.5,294.4 273.5,293.9 272.7,293.2 272.4,292.5 272.8,290.8 273.7,289.0 274.8,287.5 277.0,285.6 280.2,284.5 285.2,283.8 290.8,282.2 296.3,280.0 302.5,276.8 304.2,276.2 306.8,276.1 307.9,276.5 308.7,277.2 308.9,277.8 308.6,278.8 308.0,279.9 307.2,280.6 299.0,285.0 289.5,291.7 287.8,292.5 284.2,293.8 281.8,294.4 279.5,294.6 M573.5,290.3 572.5,290.3 571.0,289.5 570.4,288.8 570.2,287.8 571.0,286.0 572.0,285.3 572.8,284.9 574.5,284.9 575.9,285.8 576.6,287.2 575.8,289.0 575.0,289.7 573.5,290.3 M225.0,311.3 222.5,311.4 220.5,310.7 219.6,310.0 219.1,308.2 218.8,306.8 218.8,305.0 219.1,303.8 220.8,301.3 222.2,300.3 223.5,300.3 224.2,300.6 225.7,302.0 227.3,304.5 227.9,306.2 227.9,307.8 226.9,310.0 225.8,311.1 225.0,311.3 M124.8,323.3 123.0,323.5 121.8,323.1 121.0,322.5 120.5,321.5 120.3,320.2 120.3,318.2 120.5,317.0 121.0,315.5 122.2,313.8 124.0,312.6 126.2,312.3 129.8,312.5 132.8,313.7 133.6,314.8 134.1,316.8 133.8,319.0 132.8,320.8 132.0,321.5 131.0,322.0 127.2,322.9 124.8,323.3 M209.0,331.3 207.5,331.2 205.8,329.5 204.4,327.0 203.9,324.5 204.7,322.2 206.8,319.8 208.5,318.7 210.0,318.4 211.8,319.3 213.0,321.0 214.1,323.5 214.3,325.2 213.2,328.5 211.0,330.5 209.0,331.3 M319.2,40.5 316.8,40.7 315.8,40.4 315.1,39.8 314.6,38.8 314.0,35.5 314.1,34.0 314.8,32.2 316.8,31.1 317.2,31.1 320.0,32.6 322.7,34.5 323.4,35.5 323.2,37.8 322.2,39.2 321.2,40.0 319.2,40.5 M615.2,40.8 614.2,40.9 612.8,40.4 611.5,39.6 611.1,39.0 610.7,37.8 610.9,36.8 611.8,35.6 612.8,34.8 613.8,34.6 615.2,34.6 616.0,34.8 617.0,35.4 617.9,36.5 618.2,37.8 617.9,39.0 616.8,40.2 615.2,40.8 M629.2,66.0 627.0,65.7 625.7,64.8 625.2,63.2 625.8,62.0 627.5,61.3 628.8,61.3 631.0,62.5 631.7,64.0 631.3,64.8 630.8,65.5 629.2,66.0 M582.0,81.3 580.0,80.9 578.8,80.2 578.1,79.5 577.4,77.8 577.6,76.0 578.5,74.3 579.5,73.6 580.8,73.2 582.8,73.2 584.4,74.0 585.6,75.5 586.0,77.0 585.7,78.5 585.2,79.5 584.0,80.6 582.0,81.3 M606.8,82.5 605.2,82.6 603.5,82.1 602.4,81.2 601.7,80.2 601.5,79.2 601.7,78.2 603.5,76.5 605.2,75.9 607.5,76.1 608.8,76.8 610.0,78.2 610.1,80.0 609.4,81.2 608.2,82.1 606.8,82.5 M361.0,91.5 360.0,91.5 358.6,90.8 355.0,86.9 354.6,86.2 354.8,85.8 356.8,84.5 359.8,83.9 363.0,83.9 364.8,84.2 365.4,85.2 365.4,86.2 364.6,88.5 362.9,90.5 361.0,91.5 M410.2,103.3 407.2,102.6 403.2,102.7 401.5,102.2 402.3,101.0 404.9,98.5 407.2,96.9 408.1,98.2 410.2,103.3 M418.5,118.8 417.5,118.7 416.8,118.2 415.9,114.2 415.6,110.5 414.8,107.4 417.0,108.3 421.2,109.1 427.0,109.1 432.5,108.4 441.0,105.9 442.0,105.8 442.5,106.2 442.7,107.5 442.4,109.8 441.2,111.6 440.2,112.3 439.0,112.8 431.0,114.7 421.0,118.2 418.5,118.8 M353.0,116.6 352.0,116.3 351.1,115.5 350.0,113.8 348.9,111.5 348.6,110.2 348.6,109.0 349.0,107.0 349.5,106.0 350.6,106.5 352.8,108.1 354.8,111.2 355.0,112.8 354.7,114.0 354.0,115.4 353.0,116.6 M495.8,119.0 493.8,119.2 492.2,118.8 491.2,118.2 490.3,117.2 489.6,115.2 489.8,114.0 490.8,112.3 491.8,111.5 494.0,110.8 495.0,110.9 496.2,111.3 497.9,112.2 498.8,113.5 499.2,115.2 498.5,117.2 497.0,118.5 495.8,119.0 M328.0,119.8 327.0,119.9 326.0,119.7 325.0,119.0 324.0,117.7 323.9,115.8 325.2,113.2 327.1,112.0 330.8,111.1 333.2,111.3 335.2,112.3 336.2,113.8 336.6,115.0 336.0,116.8 335.1,118.0 333.2,119.0 329.8,119.7 328.0,119.8 M594.2,129.0 589.2,129.0 586.2,128.8 581.2,128.1 580.2,127.8 583.0,124.8 586.8,122.4 589.2,121.5 592.2,121.5 595.2,122.2 597.0,123.1 599.0,124.8 599.6,126.2 599.2,127.2 598.2,128.0 594.2,129.0 M637.5,145.0 635.5,144.6 634.0,143.7 633.1,142.5 632.7,141.2 633.1,139.5 633.5,138.8 635.0,137.6 637.0,136.9 638.2,137.0 639.5,137.4 641.0,138.3 641.9,139.5 642.2,141.0 642.0,142.2 641.2,143.5 639.5,144.6 637.5,145.0 M225.8,145.1 222.7,142.2 221.6,140.5 221.2,139.0 221.3,138.8 222.5,138.4 226.8,138.4 227.8,139.0 228.1,140.2 227.7,142.2 226.5,144.2 225.8,145.1 M397.5,154.9 397.0,154.5 395.8,152.0 394.4,150.0 392.5,148.4 390.8,147.6 384.5,147.1 379.2,147.8 372.5,147.8 370.8,147.5 368.0,146.7 367.4,146.2 367.2,145.2 367.9,141.5 369.0,139.5 369.8,139.2 373.0,138.7 378.0,138.7 380.0,139.1 381.8,140.1 385.2,143.0 387.8,144.7 395.0,147.0 398.0,148.2 402.0,153.2 400.0,153.7 397.5,154.9 M290.8,161.3 289.9,161.2 292.5,158.0 301.1,149.0 305.0,143.2 305.2,143.2 306.7,144.8 309.0,146.3 310.8,146.9 312.2,147.1 316.0,147.0 323.5,145.0 333.0,143.2 334.0,143.5 334.8,144.0 336.8,147.8 339.2,150.2 326.0,153.1 318.8,153.3 317.0,153.5 308.5,156.4 302.5,157.5 299.0,158.4 290.8,161.3 M349.8,155.6 348.5,155.6 347.5,155.2 346.3,153.0 344.9,151.5 346.0,151.0 347.2,150.1 348.8,150.0 350.2,150.6 351.3,152.2 351.4,153.5 350.8,155.0 349.8,155.6 M413.0,172.3 411.2,163.8 410.8,160.8 409.5,157.0 422.0,155.6 428.0,155.3 428.2,155.5 426.0,158.2 424.2,161.5 421.8,167.8 416.8,170.6 413.0,172.3 M558.8,164.5 557.5,164.7 555.8,164.0 554.7,163.0 554.1,161.5 554.5,159.8 555.0,159.0 556.0,158.1 557.8,157.6 560.0,158.2 561.2,159.7 561.7,161.0 561.0,163.0 560.0,164.0 558.8,164.5 M445.0,168.3 444.4,168.2 443.9,167.2 443.9,160.8 444.2,159.8 448.5,159.6 449.8,159.4 454.2,159.4 458.0,159.8 459.0,160.2 459.2,160.5 459.2,161.8 458.8,163.8 458.3,164.5 457.2,165.5 455.8,166.1 450.2,167.0 445.0,168.3 M315.8,177.0 315.5,177.1 314.5,176.6 314.2,175.0 314.5,171.8 315.0,170.7 315.5,170.4 316.2,170.7 317.2,171.9 318.1,173.5 318.7,175.2 318.2,176.3 317.0,176.9 315.8,177.0 M528.8,180.6 527.0,180.6 523.7,179.2 523.8,178.2 523.6,175.0 524.0,173.3 525.5,171.5 527.2,170.8 528.5,170.9 530.2,171.8 531.5,173.8 531.9,175.5 531.2,178.5 530.2,179.7 528.8,180.6 M212.5,179.3 211.2,179.5 207.8,178.8 208.2,176.0 208.9,174.5 210.5,172.6 212.5,171.5 214.0,171.0 215.0,171.1 216.5,171.9 218.0,173.6 218.5,175.0 218.2,176.2 217.7,177.2 216.2,178.3 212.5,179.3 M253.5,184.3 250.0,184.4 249.9,184.2 253.5,178.8 254.8,177.7 257.2,176.9 259.5,176.9 260.5,177.2 260.8,178.5 260.3,180.8 259.5,182.0 258.8,182.8 257.8,183.3 255.2,184.1 253.5,184.3 M299.2,182.6 298.0,182.6 297.0,182.0 296.7,181.5 296.6,180.2 297.5,178.5 298.5,177.5 299.5,176.9 301.0,176.9 304.2,179.1 307.5,180.0 307.0,180.6 306.2,181.1 302.5,181.7 299.2,182.6 M518.2,190.0 517.8,190.2 516.2,189.2 514.6,186.0 514.4,185.2 514.5,182.8 515.0,181.5 515.5,181.0 516.0,181.0 518.6,182.5 518.4,184.5 519.0,188.0 518.8,189.5 518.2,190.0 M232.8,196.3 230.5,195.9 230.1,195.2 230.1,194.5 231.3,190.8 232.7,188.8 233.7,187.8 235.0,186.8 236.2,186.4 239.8,187.3 241.8,188.2 239.9,192.5 237.8,195.0 236.2,195.8 232.8,196.3 M549.2,209.8 547.0,209.7 546.0,209.4 545.5,209.0 545.5,207.0 545.9,205.2 546.7,203.5 547.5,202.7 549.0,202.2 553.2,202.4 556.5,201.9 558.5,201.1 559.7,200.2 561.2,198.5 562.0,196.2 561.6,189.5 561.9,188.2 562.8,187.4 564.0,187.9 564.4,189.2 564.7,192.8 564.3,194.0 564.1,196.5 564.3,197.5 565.2,199.4 566.8,200.9 573.5,205.0 576.5,207.8 574.8,208.6 569.0,209.4 562.8,208.4 557.8,208.4 552.0,209.2 549.2,209.8 M347.5,274.8 346.0,275.0 344.5,274.7 340.5,273.2 339.1,272.2 338.9,270.8 339.2,269.8 341.5,267.3 344.2,265.8 351.2,264.9 353.5,264.2 355.2,263.2 357.7,260.8 359.4,257.8 360.0,255.8 360.2,251.8 361.0,250.4 361.8,250.1 364.2,252.2 365.8,253.0 368.0,253.6 370.5,254.0 376.2,254.0 378.0,253.3 380.3,251.2 381.0,250.0 382.0,247.0 382.1,243.2 381.4,240.0 380.3,237.5 378.0,234.6 375.0,233.1 371.8,232.4 368.2,232.4 367.2,232.1 365.0,231.0 359.5,229.3 358.0,228.5 357.5,227.8 356.5,223.5 356.8,223.3 359.8,222.8 362.2,221.9 365.5,219.8 366.8,218.7 368.6,216.2 369.8,214.2 370.5,212.5 370.9,209.0 370.5,206.5 368.7,203.5 367.0,201.8 365.8,201.0 363.8,200.2 362.2,200.0 357.8,200.7 355.2,201.9 352.2,204.0 349.8,206.5 343.2,203.7 340.5,203.7 338.2,204.0 335.2,206.0 331.8,209.7 329.8,211.5 322.6,216.8 321.2,218.5 318.9,222.2 316.8,226.5 315.5,229.5 313.6,235.8 313.3,238.0 313.3,241.5 313.8,243.8 315.5,246.3 318.2,247.8 323.2,248.8 323.8,249.2 324.0,249.8 324.0,250.5 323.8,250.7 320.8,250.3 317.5,250.4 315.2,251.0 312.8,252.6 312.1,251.0 311.1,249.5 310.0,248.5 308.8,247.8 305.5,246.8 298.2,246.1 292.2,246.7 289.0,247.9 286.8,249.4 285.0,249.7 284.5,249.5 278.2,242.2 273.5,237.5 274.2,237.1 275.5,236.9 283.2,236.8 287.8,237.3 294.2,237.7 298.8,237.1 302.0,235.4 304.0,233.5 304.9,232.2 305.6,230.5 306.3,227.8 306.3,223.2 306.0,221.5 306.0,217.5 305.3,212.5 306.0,211.5 307.0,211.3 310.2,212.1 312.8,213.4 314.5,213.9 317.0,214.1 318.5,213.8 320.5,212.8 322.0,211.0 323.9,205.8 324.9,204.2 325.8,203.6 338.5,200.3 346.8,196.4 354.5,194.0 358.5,192.2 364.5,190.3 369.2,189.8 372.8,189.7 379.8,189.1 380.8,195.5 382.0,200.2 384.1,205.8 386.0,209.5 384.2,209.6 382.5,210.1 380.0,211.3 377.8,213.0 376.1,215.2 375.1,218.2 375.1,222.2 375.6,225.2 377.0,229.0 378.4,231.5 380.0,233.2 385.5,237.9 387.8,239.2 389.8,239.9 397.2,241.4 398.8,242.0 402.3,244.2 409.2,249.8 409.8,250.8 409.8,251.6 409.0,251.7 405.8,250.8 398.2,248.3 396.0,247.8 391.8,247.8 388.0,249.1 383.8,250.2 380.2,252.1 376.8,254.9 374.5,257.2 373.5,258.0 368.5,260.8 365.2,261.5 359.8,261.9 357.5,262.6 355.1,264.0 353.2,265.5 351.2,267.8 348.1,274.2 347.5,274.8 M460.0,201.3 457.2,201.4 454.2,200.9 453.0,200.3 452.2,199.5 451.8,198.0 451.8,193.5 452.1,191.8 454.8,191.1 458.2,191.1 461.0,191.7 463.2,192.8 463.7,195.2 462.8,199.8 462.5,200.3 461.8,200.8 460.0,201.3 M607.2,214.8 606.9,214.5 606.9,213.5 607.4,211.0 608.4,209.2 609.7,208.2 612.5,207.1 616.0,206.6 619.8,206.8 620.5,207.2 618.8,210.2 617.8,211.3 615.8,212.6 611.2,214.1 607.2,214.8 M251.2,219.3 250.5,219.5 248.5,219.4 246.5,218.8 245.8,218.0 246.5,214.5 247.2,212.7 248.8,211.7 250.2,211.3 251.8,211.7 252.6,212.2 253.7,213.8 254.2,215.2 254.2,216.5 253.9,217.8 252.8,218.6 251.2,219.3 M219.8,239.0 218.8,239.2 216.5,238.5 215.7,237.2 215.0,234.8 215.7,232.2 217.2,229.8 219.8,228.5 221.2,229.0 222.2,230.1 223.6,233.0 224.0,235.5 223.5,237.0 222.8,238.0 221.8,238.6 219.8,239.0 M436.5,244.0 433.5,243.4 432.0,242.5 431.0,241.0 430.7,240.0 431.0,238.8 432.2,237.3 434.0,236.4 435.8,235.9 437.2,236.0 439.8,236.8 441.5,238.3 442.0,240.0 441.7,241.2 440.7,242.5 439.2,243.4 436.5,244.0 M252.8,278.0 252.1,278.0 255.5,275.5 258.3,272.0 261.0,268.0 263.3,263.5 264.8,261.7 265.2,261.5 266.0,261.7 268.0,262.7 268.7,263.8 269.2,265.8 269.2,267.8 268.8,268.8 267.8,269.8 265.0,271.7 262.2,273.1 258.0,274.7 256.8,275.4 254.2,277.3 252.8,278.0 M207.2,276.8 205.2,276.8 204.9,276.5 204.7,275.5 205.5,273.5 207.6,270.8 209.0,269.5 212.0,267.6 214.5,266.6 216.8,266.1 217.0,266.2 217.2,268.2 216.7,269.8 215.8,272.0 214.5,273.8 213.8,274.5 212.2,275.4 210.2,276.1 207.2,276.8 M279.8,293.3 278.2,293.5 275.8,293.2 274.0,292.9 273.6,292.5 273.9,291.0 274.6,289.8 275.8,288.1 277.5,286.6 280.5,285.6 285.5,285.0 291.2,283.3 296.8,280.9 302.8,277.6 304.5,277.0 306.8,277.0 307.5,277.2 308.0,277.8 307.4,279.2 306.7,280.0 298.3,284.2 289.0,290.6 287.2,291.5 283.8,292.7 281.5,293.2 279.8,293.3 M239.0,286.8 236.0,286.1 235.4,285.5 234.7,282.5 235.2,280.8 236.1,279.2 236.8,278.7 239.2,278.5 243.5,279.0 246.0,279.8 244.6,281.2 243.6,284.2 243.0,285.0 241.5,286.2 239.0,286.8 M573.2,289.8 572.2,289.6 571.3,289.0 570.9,287.8 571.4,286.5 572.2,285.9 573.0,285.5 574.2,285.5 575.5,286.2 575.9,287.2 575.4,288.5 574.9,289.0 573.2,289.8 M224.8,310.3 222.8,310.4 221.0,309.9 220.5,309.5 220.1,308.0 219.8,305.2 220.1,304.0 221.5,302.0 222.5,301.3 223.8,301.5 225.0,302.7 226.4,305.0 226.9,306.5 226.9,307.5 226.0,309.5 225.5,310.1 224.8,310.3 M125.0,322.0 124.0,322.2 122.2,322.0 121.8,321.2 121.5,318.5 121.8,317.2 122.2,316.0 123.1,314.8 124.5,313.8 126.5,313.5 129.8,313.8 132.0,314.7 132.5,315.5 132.8,317.0 132.6,318.5 131.8,320.0 131.2,320.5 130.0,321.0 125.0,322.0 M209.2,330.0 208.0,330.1 206.7,328.8 205.5,326.8 205.1,324.8 205.6,323.0 206.8,321.4 208.2,320.2 210.0,319.6 211.1,320.2 212.1,321.8 213.0,323.8 213.2,325.0 212.3,327.8 211.0,329.1 209.2,330.0 M319.2,39.5 318.5,39.7 316.2,39.5 315.5,38.5 315.1,36.8 315.1,34.2 315.7,32.8 316.8,32.2 317.2,32.2 319.5,33.4 322.0,35.2 322.4,35.8 322.2,37.5 321.6,38.5 320.8,39.1 319.2,39.5 M615.0,40.1 614.2,40.1 613.0,39.7 611.8,38.8 611.5,37.8 611.6,37.0 613.0,35.5 615.2,35.4 616.5,35.9 617.2,36.8 617.4,38.0 617.0,39.0 616.0,39.7 615.0,40.1 M629.0,65.5 627.2,65.2 626.2,64.5 625.7,63.5 626.1,62.5 627.5,61.9 628.5,61.8 629.5,62.2 630.7,63.0 631.1,64.0 630.7,64.8 629.0,65.5 M582.0,80.3 580.5,80.1 579.5,79.5 579.0,79.0 578.4,77.8 578.4,76.5 578.9,75.5 579.2,74.9 580.8,74.2 582.5,74.2 583.8,74.8 584.8,75.9 585.0,77.0 584.8,78.2 584.3,79.0 583.5,79.8 582.0,80.3 M606.5,81.8 605.5,81.8 604.0,81.5 602.8,80.4 602.4,79.8 602.4,78.8 603.5,77.4 604.5,76.9 606.2,76.7 608.0,77.3 609.1,78.2 609.3,78.8 609.3,79.8 608.8,80.7 607.8,81.5 606.5,81.8 M361.0,90.6 360.5,90.7 359.2,90.1 355.8,86.4 355.8,86.1 357.0,85.4 360.0,84.7 363.0,84.7 364.3,85.0 364.5,86.2 363.9,88.0 362.4,89.8 361.0,90.6 M408.8,102.2 407.2,101.9 403.2,102.1 402.6,101.8 405.3,99.0 407.0,97.8 408.2,100.0 408.8,102.2 M419.2,117.6 418.0,117.7 417.8,117.5 417.0,114.0 416.5,109.2 421.2,110.2 427.2,110.2 432.5,109.4 438.5,107.4 441.2,106.7 441.8,106.8 441.8,108.5 441.5,109.5 440.6,111.0 439.8,111.5 438.0,112.1 430.8,113.7 419.2,117.6 M352.8,115.9 351.6,115.0 349.5,111.2 349.2,109.0 349.8,106.9 352.4,108.8 354.2,111.5 354.4,112.5 354.1,113.8 352.8,115.9 M495.5,118.1 494.0,118.2 493.0,118.0 492.3,117.8 491.1,116.8 490.6,115.2 490.7,114.2 491.5,113.0 492.2,112.4 494.0,111.8 494.8,111.8 496.9,112.8 497.9,114.0 498.2,115.2 497.6,116.8 496.5,117.7 495.5,118.1 M328.0,118.8 327.0,118.9 326.2,118.7 325.6,118.2 324.8,117.0 324.9,115.8 326.2,113.6 328.2,112.6 331.0,112.0 333.0,112.2 334.5,113.0 335.4,114.2 335.6,115.0 335.2,116.2 334.2,117.4 332.2,118.2 329.8,118.7 328.0,118.8 M594.5,128.0 589.2,128.1 582.0,127.2 582.2,126.7 583.5,125.5 587.0,123.2 589.5,122.4 592.2,122.4 594.8,123.0 596.5,123.8 598.0,125.0 598.5,125.8 598.5,126.7 597.8,127.2 594.5,128.0 M637.5,144.1 636.0,143.8 634.6,143.0 633.7,141.2 633.9,140.0 634.4,139.2 635.5,138.4 637.0,137.9 638.0,137.9 639.0,138.2 640.4,139.0 641.1,140.0 641.2,141.0 641.1,141.8 640.5,142.8 639.2,143.7 637.5,144.1 M225.8,144.3 223.1,141.8 222.2,140.2 222.0,139.2 226.8,139.0 227.2,139.4 227.5,140.2 227.2,141.5 226.9,142.5 225.8,144.3 M379.8,146.5 372.8,146.7 368.6,145.8 368.3,145.0 368.6,143.2 368.9,142.0 369.6,140.5 373.2,139.8 377.8,139.8 379.5,140.1 381.2,141.1 386.0,144.9 388.2,146.0 387.8,146.2 384.2,146.0 379.8,146.5 M294.2,158.8 293.8,159.0 293.6,158.8 300.7,151.5 303.2,148.5 305.2,145.4 309.2,147.8 311.5,148.4 314.0,148.4 316.2,148.2 323.8,146.1 333.0,144.3 334.0,144.8 335.3,147.5 336.9,149.5 331.2,151.0 326.0,152.1 324.2,152.2 318.5,152.1 316.5,152.3 308.2,155.1 299.8,156.8 294.2,158.8 M388.8,146.3 388.4,146.2 388.9,146.2 388.8,146.3 M398.0,153.8 397.5,153.8 396.5,151.7 395.0,149.6 392.5,147.5 392.8,147.4 394.0,147.6 396.2,148.3 397.5,148.8 398.5,149.9 400.6,152.8 398.0,153.8 M350.0,154.8 348.8,155.0 347.9,154.8 346.1,151.8 347.5,150.8 348.8,150.6 349.8,151.0 350.8,152.5 350.8,153.5 350.4,154.5 350.0,154.8 M414.2,170.1 414.0,170.2 413.9,170.0 411.8,158.4 419.2,157.4 424.9,157.0 422.8,161.0 420.6,166.8 414.2,170.1 M558.2,163.8 556.8,163.6 556.0,163.2 555.4,162.5 554.9,161.2 555.3,160.0 556.1,159.0 557.8,158.4 559.7,159.0 560.5,160.0 560.8,161.0 560.6,162.0 560.0,163.0 559.0,163.6 558.2,163.8 M445.2,167.3 445.0,167.3 444.8,167.0 444.8,161.0 445.0,160.5 454.2,160.3 456.5,160.5 458.3,161.0 457.8,163.5 457.2,164.3 456.2,164.9 454.2,165.4 450.0,166.1 445.2,167.3 M315.5,176.5 314.9,176.2 314.7,175.0 315.0,172.0 315.5,170.9 316.1,171.2 316.9,172.2 318.2,175.2 318.0,175.8 317.5,176.1 315.5,176.5 M211.8,178.5 209.5,178.3 208.7,178.0 209.6,175.0 211.0,173.4 212.8,172.4 214.5,171.9 215.5,172.3 216.8,173.5 217.3,174.2 217.5,175.0 217.1,176.5 215.8,177.5 211.8,178.5 M528.5,179.6 527.0,179.6 524.8,178.5 524.5,175.8 524.9,173.8 526.0,172.4 527.2,171.8 528.2,171.9 529.5,172.5 530.6,174.2 530.9,175.5 530.4,178.0 529.8,178.8 528.5,179.6 M298.8,182.0 298.2,182.0 297.4,181.5 297.3,180.2 298.0,178.9 299.0,177.9 299.8,177.5 300.8,177.5 304.0,179.6 306.5,180.2 305.0,180.8 302.2,181.1 298.8,182.0 M253.5,183.5 251.5,183.5 254.0,179.3 254.8,178.5 257.5,177.7 259.2,177.7 260.0,178.0 259.6,180.5 258.2,182.2 255.2,183.3 253.5,183.5 M518.0,189.3 516.8,188.5 515.7,186.5 515.3,185.2 515.4,183.0 516.0,181.8 517.7,183.0 517.7,184.8 518.3,187.8 518.0,189.3 M232.8,195.3 231.2,195.2 231.1,194.5 232.2,191.0 234.3,188.5 236.2,187.3 239.5,188.3 240.5,188.8 239.1,192.0 237.2,194.2 236.0,194.9 232.8,195.3 M563.2,194.1 563.0,194.1 562.5,190.8 562.5,189.0 563.0,188.4 563.4,188.8 563.7,190.5 563.7,192.8 563.2,194.1 M313.8,249.8 313.2,249.8 311.2,247.4 309.2,246.2 306.0,245.3 301.2,244.7 297.8,244.6 292.5,245.2 288.8,246.5 286.2,248.1 285.2,248.3 276.6,238.5 277.5,238.2 283.0,238.1 293.8,239.2 296.0,239.1 299.5,238.5 302.0,237.3 303.2,236.5 305.2,234.5 306.3,233.0 307.1,231.0 307.8,228.0 307.9,223.2 307.6,221.2 307.6,217.5 307.0,213.1 310.0,213.7 312.0,214.8 314.2,215.5 317.2,215.6 319.0,215.3 321.2,214.1 322.9,212.0 323.7,210.5 324.9,206.5 325.8,205.0 326.2,204.6 339.0,201.4 347.2,197.6 355.2,195.4 359.5,193.7 365.2,192.0 378.2,191.2 379.2,197.0 380.2,200.8 383.0,208.0 379.8,209.3 376.9,211.2 375.0,213.7 373.7,216.8 373.4,219.2 373.5,222.5 373.9,225.0 374.8,228.0 376.7,231.8 376.5,231.9 372.2,230.9 368.0,230.6 365.5,229.5 361.0,228.2 359.1,227.2 358.6,225.5 358.5,224.7 360.5,224.2 363.5,223.1 367.0,220.6 370.0,217.0 372.0,213.2 372.4,211.8 372.7,209.2 372.4,206.5 371.5,204.5 370.5,202.9 368.0,200.3 365.8,199.0 363.5,198.3 361.8,198.3 358.5,198.9 357.0,199.4 354.5,200.8 351.5,202.9 349.5,204.9 343.2,202.5 341.2,202.5 338.5,202.8 337.0,203.4 334.8,205.1 330.9,209.0 329.2,210.3 321.8,215.2 319.8,217.8 317.5,221.6 315.3,226.0 313.9,229.2 312.7,233.0 311.7,237.5 311.7,242.0 312.3,244.2 314.0,247.0 315.2,248.0 316.7,248.8 313.8,249.8 M459.8,200.0 457.2,200.2 454.5,199.7 453.5,199.0 453.1,198.0 453.2,192.7 455.0,192.3 458.2,192.3 460.2,192.8 462.1,193.5 462.4,195.2 461.7,199.2 461.0,199.8 459.8,200.0 M549.2,208.8 548.5,208.9 546.4,208.5 546.4,207.2 546.9,205.5 547.8,203.8 549.2,203.1 553.5,203.5 556.5,203.0 558.2,202.5 560.0,201.5 561.5,200.0 562.3,198.8 563.0,196.9 564.0,199.5 565.5,201.2 572.8,205.8 574.5,207.5 569.0,208.2 562.8,207.3 557.5,207.3 552.0,208.1 549.2,208.8 M609.2,213.8 607.8,213.9 607.6,213.8 608.3,210.8 609.0,209.7 610.0,209.0 612.0,208.1 614.0,207.6 617.2,207.4 619.4,207.8 618.3,209.8 616.5,211.3 614.2,212.4 609.2,213.8 M250.5,218.5 248.8,218.5 247.2,218.1 246.9,217.8 247.4,214.8 248.0,213.3 249.0,212.6 250.2,212.2 251.3,212.5 252.1,213.0 253.3,215.2 253.1,217.2 252.2,217.9 250.5,218.5 M219.5,238.0 218.8,238.1 217.2,237.8 216.4,236.2 216.1,234.5 216.7,232.5 217.3,231.5 218.1,230.5 219.8,229.6 220.8,230.0 221.4,230.8 222.6,233.2 222.9,235.2 222.6,236.5 222.1,237.2 220.8,237.8 219.5,238.0 M408.5,250.6 404.8,249.5 398.2,247.1 395.2,246.6 391.5,246.6 387.2,248.1 382.6,249.2 383.2,246.5 383.2,243.0 382.4,239.5 381.0,236.1 385.0,239.0 387.5,240.3 390.0,241.1 397.0,242.5 398.2,243.0 405.8,248.1 408.5,250.6 M436.5,243.1 434.5,242.7 433.2,242.2 432.2,241.4 431.7,240.0 432.0,239.0 432.9,238.0 434.5,237.2 435.8,236.9 437.0,236.9 439.5,237.8 440.8,238.9 441.1,240.0 440.6,241.2 439.5,242.2 438.5,242.6 436.5,243.1 M359.0,261.0 358.8,261.0 360.3,258.2 360.8,256.8 361.3,253.8 361.3,252.0 361.8,251.4 363.5,253.0 366.5,254.3 370.2,255.0 374.8,255.1 375.0,255.2 372.8,257.2 368.0,259.8 365.0,260.5 360.2,260.7 359.0,261.0 M258.5,273.6 258.2,273.5 261.7,268.5 264.0,264.0 264.9,262.8 265.5,262.4 267.3,263.2 267.9,264.0 268.4,266.0 268.4,267.5 268.1,268.2 267.2,269.1 264.5,271.0 262.0,272.3 258.5,273.6 M347.0,273.9 344.5,273.6 341.0,272.3 340.0,271.5 340.1,270.5 342.2,268.1 344.5,266.8 351.0,266.0 351.1,266.2 350.0,267.8 347.0,273.9 M207.0,276.0 205.7,276.0 205.6,275.0 207.2,272.5 208.3,271.2 209.5,270.2 212.2,268.4 214.2,267.5 216.2,267.1 216.4,268.0 215.7,270.2 215.1,271.5 213.4,273.8 210.5,275.2 207.0,276.0 M279.0,292.5 275.8,292.3 274.6,292.0 275.4,290.2 276.4,288.8 278.0,287.4 282.0,286.2 285.8,285.9 291.5,284.1 297.0,281.7 303.0,278.3 304.5,277.7 306.5,277.6 307.2,278.0 306.8,279.0 306.2,279.5 297.8,283.6 288.5,289.9 283.8,291.8 279.0,292.5 M239.0,285.8 236.5,285.2 236.3,285.0 235.7,282.5 236.0,281.2 236.8,280.0 237.8,279.4 239.0,279.4 244.0,280.1 244.1,280.2 243.4,281.5 242.7,283.8 242.3,284.2 241.0,285.3 239.0,285.8 M573.0,289.3 571.5,288.5 571.4,287.8 571.8,286.8 573.0,286.0 574.0,286.0 574.8,286.2 575.1,286.5 575.4,287.2 575.0,288.2 574.2,288.9 573.0,289.3 M224.5,309.5 223.0,309.6 222.0,309.4 221.2,309.0 221.1,308.8 220.7,306.5 220.9,304.2 222.0,302.7 222.8,302.1 223.3,302.2 224.4,303.2 225.6,305.2 226.0,306.5 226.1,307.2 225.6,308.5 225.0,309.4 224.5,309.5 M123.8,321.3 122.7,321.0 122.5,318.5 123.0,316.5 124.5,314.8 127.8,314.5 129.5,314.8 131.4,315.5 131.8,316.8 131.7,318.0 131.5,318.8 130.8,319.7 127.0,320.7 123.8,321.3 M209.2,329.1 208.5,329.2 207.5,328.2 206.4,326.5 206.0,324.8 206.5,323.2 207.5,322.0 208.8,320.9 209.8,320.6 210.5,321.0 211.3,322.2 211.9,323.5 212.2,325.0 211.5,327.2 210.5,328.3 209.2,329.1 M318.8,38.8 316.8,38.8 316.3,38.0 315.9,36.5 315.9,34.5 316.2,33.4 317.0,33.0 319.8,34.6 321.6,36.0 321.4,37.2 320.8,38.2 318.8,38.8 M614.5,39.6 613.2,39.2 612.3,38.5 612.2,37.2 613.2,36.1 615.0,35.9 616.0,36.3 616.7,37.0 616.8,38.0 616.5,38.6 615.8,39.2 614.5,39.6 M629.2,65.0 628.0,65.0 627.0,64.6 626.3,63.8 626.3,63.0 627.2,62.4 628.5,62.3 630.2,63.2 630.6,64.0 630.3,64.5 629.2,65.0 M581.8,79.5 580.5,79.3 580.0,78.9 579.2,77.5 579.2,76.5 579.5,76.0 580.2,75.2 581.0,74.9 582.2,74.9 583.2,75.3 584.0,76.2 584.2,77.0 584.0,78.0 583.5,78.7 582.8,79.3 581.8,79.5 M606.8,81.0 605.5,81.1 604.1,80.8 603.1,79.8 603.1,78.8 604.0,77.9 605.5,77.4 606.2,77.4 607.8,77.9 608.6,78.8 608.7,79.5 607.8,80.7 606.8,81.0 M361.0,89.8 360.5,89.9 359.8,89.5 356.9,86.5 356.9,86.2 360.2,85.5 362.8,85.5 363.8,85.7 363.8,86.3 363.2,87.8 362.0,89.1 361.0,89.8 M407.8,101.4 404.0,101.5 403.8,101.2 406.8,98.7 407.0,98.8 407.7,100.2 408.0,101.2 407.8,101.4 M403.8,101.5 403.5,101.5 403.8,101.3 403.9,101.5 403.8,101.5 M418.5,116.8 417.6,112.2 417.7,110.5 421.5,111.1 427.5,111.0 432.8,110.2 438.5,108.2 441.0,107.8 440.5,109.7 440.0,110.4 439.2,110.9 430.5,112.9 420.2,116.4 418.5,116.8 M352.8,115.0 352.5,115.2 352.0,114.6 350.0,111.0 349.7,109.2 350.0,107.9 350.2,107.8 352.0,109.1 353.7,111.8 353.8,112.5 353.6,113.5 352.8,115.0 M495.2,117.3 494.0,117.4 493.0,117.2 491.8,116.2 491.4,115.2 491.5,114.5 492.0,113.7 492.8,113.1 494.2,112.6 494.8,112.7 496.5,113.4 497.1,114.2 497.3,115.2 496.9,116.2 496.2,116.9 495.2,117.3 M327.5,118.0 327.0,118.1 326.3,117.8 325.6,116.8 326.0,115.2 326.8,114.3 327.5,113.8 329.5,113.1 332.0,112.9 333.8,113.4 334.6,114.5 334.7,115.0 334.5,115.8 333.5,116.9 329.5,117.9 327.5,118.0 M594.5,127.3 589.5,127.4 584.5,126.8 583.6,126.5 587.5,123.9 589.5,123.2 592.0,123.1 595.0,123.9 596.8,124.9 597.7,126.0 597.8,126.2 597.2,126.6 594.5,127.3 M638.5,143.1 637.5,143.2 636.5,143.1 635.2,142.5 634.5,141.2 635.0,139.8 636.1,139.0 637.2,138.6 638.8,138.9 639.8,139.5 640.3,140.2 640.4,141.5 639.9,142.2 638.5,143.1 M225.8,143.3 225.5,143.4 223.6,141.5 222.6,140.0 222.8,139.5 226.8,139.6 226.9,140.2 226.7,141.5 225.8,143.3 M379.0,145.8 372.8,145.8 369.5,145.1 369.2,144.8 369.7,142.2 370.2,141.2 373.2,140.7 377.8,140.7 379.2,141.0 380.6,141.8 384.6,145.0 379.0,145.8 M298.5,156.0 297.9,156.0 303.0,150.5 305.5,147.0 308.0,148.5 310.2,149.3 312.0,149.5 315.0,149.4 316.8,149.2 323.8,147.0 332.8,145.1 333.3,145.2 335.2,149.0 331.0,150.2 325.8,151.2 318.2,151.0 316.2,151.3 308.0,154.0 302.0,155.1 298.5,156.0 M398.2,153.1 398.0,153.2 397.8,153.0 396.3,150.2 395.0,148.8 397.0,149.3 398.2,150.5 399.5,152.2 399.4,152.5 398.2,153.1 M349.8,154.3 348.2,154.3 346.9,152.0 347.1,151.8 347.8,151.3 348.5,151.2 349.5,151.5 350.2,152.8 350.2,153.5 349.8,154.3 M415.0,168.3 414.1,164.5 413.2,159.4 422.5,158.3 422.7,158.5 420.8,162.5 419.5,166.0 415.0,168.3 M558.8,163.0 558.0,163.2 557.0,163.0 555.9,162.0 555.6,161.2 555.9,160.2 556.5,159.5 557.8,159.1 558.5,159.2 559.2,159.5 559.8,160.2 560.1,161.0 560.0,161.8 559.3,162.8 558.8,163.0 M446.2,166.3 445.6,166.2 445.6,161.5 445.8,161.3 454.0,161.1 457.4,161.5 456.9,163.5 455.5,164.4 450.0,165.3 446.2,166.3 M315.8,176.0 315.4,176.0 315.1,175.0 315.4,172.0 315.8,171.5 317.1,173.5 317.7,175.2 317.5,175.6 316.8,176.0 315.8,176.0 M211.5,177.8 209.8,177.5 209.7,177.2 210.4,175.2 211.5,174.0 213.0,173.1 214.2,172.7 215.2,173.1 216.3,174.0 216.7,175.0 216.5,176.0 216.0,176.5 214.0,177.3 211.5,177.8 M528.2,178.8 527.2,178.8 525.8,178.1 525.4,176.5 525.6,174.2 526.5,173.1 527.5,172.6 529.0,173.2 529.8,174.5 530.1,175.5 529.7,177.5 529.1,178.2 528.2,178.8 M253.8,182.8 253.0,182.9 252.7,182.8 254.5,179.8 255.2,179.0 257.5,178.3 259.2,178.3 259.0,180.2 257.8,181.8 255.0,182.7 253.8,182.8 M299.8,181.3 298.2,181.4 297.8,181.0 297.8,180.5 298.5,179.1 299.2,178.4 300.0,178.0 301.2,178.3 302.5,179.5 304.1,180.2 299.8,181.3 M517.5,188.2 516.9,187.2 516.1,185.0 516.2,182.9 517.1,183.5 517.7,187.8 517.5,188.2 M232.5,194.5 231.9,194.2 232.6,192.0 234.8,189.2 236.2,188.1 239.2,189.0 239.4,189.2 238.5,191.5 236.8,193.6 235.8,194.2 232.5,194.5 M373.8,212.9 374.1,207.5 373.7,205.8 372.8,203.8 371.3,201.5 369.4,199.5 367.8,198.3 365.5,197.3 364.0,196.9 362.2,196.8 357.5,197.9 354.0,199.8 351.0,202.0 349.2,203.7 344.5,201.8 341.8,201.2 347.5,198.6 356.0,196.6 360.2,195.0 365.8,193.5 376.8,192.9 378.7,201.2 380.8,207.0 378.2,208.3 376.5,209.6 374.8,211.4 373.8,212.9 M459.5,199.0 457.5,199.1 454.8,198.6 454.2,198.3 454.2,193.6 458.0,193.4 460.0,193.8 461.2,194.3 461.4,195.0 460.8,198.7 459.5,199.0 M549.0,208.0 547.5,208.0 547.3,207.8 547.7,205.8 548.5,204.3 549.5,204.0 553.8,204.4 558.2,203.5 560.8,202.1 563.0,199.5 563.9,201.0 565.2,202.2 572.4,206.8 572.0,207.0 569.0,207.3 562.8,206.4 557.5,206.4 552.0,207.3 549.0,208.0 M324.2,212.1 325.4,207.8 326.5,205.7 332.2,204.0 335.0,203.3 335.4,203.5 333.8,204.8 329.8,208.7 324.2,212.1 M608.8,213.3 608.5,213.2 608.4,213.0 608.8,211.2 609.5,210.1 610.5,209.4 612.2,208.6 614.0,208.2 617.2,208.0 618.4,208.2 617.9,209.2 616.9,210.2 615.0,211.4 612.8,212.3 608.8,213.3 M373.5,213.4 373.5,213.0 373.5,213.4 M250.2,217.8 247.8,217.5 247.7,216.8 248.7,213.8 250.5,213.0 251.8,213.8 252.5,215.2 252.5,216.2 252.4,216.8 252.0,217.1 250.2,217.8 M285.8,247.0 279.1,239.5 280.8,239.2 283.0,239.3 295.0,240.5 299.2,239.9 302.8,238.4 304.3,237.2 306.8,234.7 308.0,232.5 308.7,230.2 309.2,226.8 308.8,214.8 314.0,216.8 315.8,216.9 318.9,216.8 316.4,221.0 314.1,225.5 311.8,231.2 310.9,234.8 310.3,237.8 310.3,241.8 310.7,243.8 311.5,245.8 309.2,244.8 306.2,244.0 301.8,243.4 298.0,243.2 291.8,244.3 288.2,245.5 285.8,247.0 M372.8,215.3 372.8,214.8 372.8,215.3 M374.0,229.8 371.8,229.5 368.2,229.3 366.0,228.2 361.2,226.9 360.5,226.5 360.2,225.8 364.2,224.2 367.5,221.9 370.1,219.0 372.5,215.3 372.6,215.5 372.1,218.8 372.2,223.0 372.7,225.8 374.0,229.8 M219.0,237.3 217.7,237.0 217.2,235.8 217.0,234.5 217.4,233.0 218.0,232.0 218.8,231.1 219.8,230.5 220.3,230.8 221.0,231.8 221.8,233.8 222.1,235.2 221.5,236.6 219.0,237.3 M437.5,242.1 436.2,242.2 433.8,241.6 432.8,240.8 432.5,240.0 432.6,239.5 433.8,238.4 436.0,237.6 437.5,237.8 439.0,238.4 440.0,239.2 440.2,240.0 440.1,240.5 439.0,241.6 437.5,242.1 M404.5,248.6 397.2,245.9 394.2,245.6 391.2,245.7 387.2,247.0 384.1,247.8 384.2,243.0 383.4,239.2 386.8,241.1 389.0,241.9 396.5,243.4 397.8,243.8 403.0,247.2 404.7,248.5 404.5,248.6 M362.2,259.8 360.5,259.8 361.7,256.8 362.2,253.2 364.5,254.5 366.5,255.2 370.0,255.9 372.9,256.0 367.5,259.1 365.0,259.6 362.2,259.8 M260.5,272.0 260.2,272.0 262.4,268.8 264.3,265.0 265.4,263.2 266.8,263.8 267.2,264.4 267.7,266.0 267.6,267.8 264.2,270.3 260.5,272.0 M346.5,273.1 343.2,272.3 341.0,271.2 340.9,270.8 342.8,268.8 344.8,267.7 347.5,267.2 349.2,267.2 346.5,273.1 M207.2,275.3 206.5,275.4 206.3,275.2 207.8,272.8 209.8,270.8 212.6,269.0 214.5,268.2 215.6,268.0 214.6,271.0 212.9,273.2 210.2,274.6 207.2,275.3 M278.8,291.8 275.7,291.5 276.0,290.8 277.0,289.2 278.5,288.0 281.0,287.2 286.0,286.6 291.5,284.9 297.2,282.4 303.2,278.8 304.8,278.3 306.6,278.2 305.8,279.1 297.3,283.0 287.0,289.8 283.5,291.1 278.8,291.8 M240.0,284.8 238.8,285.0 236.9,284.5 236.5,282.5 236.8,281.5 237.5,280.3 239.0,280.2 242.8,280.8 241.9,283.5 241.0,284.4 240.0,284.8 M573.2,288.8 572.5,288.7 571.8,288.2 572.0,287.2 573.2,286.4 574.5,286.5 575.0,287.2 574.8,287.8 574.2,288.4 573.2,288.8 M224.5,308.8 223.0,308.9 222.0,308.7 221.6,307.8 221.3,306.2 221.5,304.5 223.0,302.8 224.2,304.2 225.4,306.8 225.2,307.7 224.5,308.8 M124.5,320.3 123.5,320.4 123.3,318.8 123.8,316.8 124.8,315.7 127.5,315.3 129.5,315.6 130.9,316.2 130.9,318.0 130.2,319.0 126.8,320.0 124.5,320.3 M209.0,328.3 208.5,328.2 207.5,327.0 206.8,324.8 207.1,323.8 208.1,322.5 209.8,321.4 210.7,322.8 211.5,324.8 210.9,326.8 210.0,327.7 209.0,328.3 M318.8,38.0 317.2,38.1 317.0,37.9 316.6,35.2 317.0,33.8 320.8,36.2 320.7,37.0 320.2,37.6 318.8,38.0 M615.0,38.8 614.5,39.0 612.9,38.2 612.7,37.8 612.8,37.2 613.3,36.8 614.0,36.5 615.0,36.5 615.8,36.8 616.1,37.2 616.2,38.0 615.7,38.5 615.0,38.8 M629.2,64.6 627.5,64.4 626.8,63.8 626.6,63.2 627.8,62.7 629.0,62.9 630.1,63.8 630.0,64.2 629.2,64.6 M581.8,78.8 580.5,78.4 579.9,77.5 580.0,76.5 581.0,75.7 582.2,75.7 583.0,76.0 583.4,76.8 583.2,78.0 582.7,78.5 581.8,78.8 M606.2,80.5 604.5,80.3 603.7,79.5 603.7,79.0 604.5,78.3 605.8,78.0 607.5,78.5 608.0,79.0 608.0,79.5 607.2,80.3 606.2,80.5 M361.0,89.0 360.5,89.2 360.2,89.0 358.0,86.8 358.2,86.5 360.2,86.1 363.0,86.2 362.8,87.0 362.2,87.9 361.0,89.0 M406.2,101.0 405.1,100.8 406.8,99.4 407.3,100.8 406.2,101.0 M352.5,114.5 351.4,112.8 350.4,110.8 350.2,109.2 350.5,108.6 351.7,109.5 353.2,111.8 353.3,112.5 352.5,114.5 M419.5,115.8 419.1,115.8 418.8,114.5 418.5,111.5 421.8,111.9 427.0,111.9 430.2,111.5 433.0,110.9 438.8,108.8 440.0,108.5 440.2,108.8 439.5,109.9 438.2,110.5 430.2,112.1 419.5,115.8 M495.2,116.5 494.0,116.6 492.8,116.2 492.2,115.2 492.5,114.2 493.0,113.8 494.2,113.4 496.0,114.0 496.5,114.7 496.6,115.2 496.2,116.0 495.2,116.5 M327.5,117.3 326.9,117.2 326.4,116.2 327.1,115.0 328.2,114.3 329.5,113.9 332.0,113.6 333.3,114.0 334.0,115.0 333.3,116.2 332.8,116.5 329.5,117.1 327.5,117.3 M594.8,126.5 589.5,126.7 586.5,126.4 585.3,126.0 587.8,124.5 589.5,123.9 592.0,123.8 594.5,124.4 596.2,125.4 596.8,126.0 594.8,126.5 M637.5,142.5 636.0,142.1 635.4,141.5 635.2,141.0 635.5,140.2 637.2,139.4 639.0,139.9 639.6,140.5 639.7,141.0 639.4,141.8 638.8,142.2 637.5,142.5 M225.5,142.7 224.0,141.2 223.2,140.0 226.2,140.0 226.4,140.2 226.2,141.3 225.5,142.7 M380.0,144.8 378.8,145.0 373.0,145.0 370.5,144.6 370.2,144.2 370.4,142.8 370.8,142.0 373.5,141.5 377.5,141.5 379.5,142.0 382.6,144.5 380.0,144.8 M326.8,150.3 324.0,150.5 317.1,150.0 324.0,147.8 332.5,146.0 332.8,146.1 334.0,148.5 332.8,149.0 326.8,150.3 M301.2,154.3 300.9,154.2 303.9,151.0 305.8,148.3 308.0,149.6 310.2,150.3 315.3,150.5 307.8,153.1 301.2,154.3 M398.5,152.4 398.2,152.5 398.1,152.2 397.1,150.5 397.2,150.3 398.6,152.0 398.7,152.2 398.5,152.4 M349.5,153.8 348.5,153.8 347.5,152.0 348.5,151.7 349.2,152.0 349.7,152.8 349.5,153.8 M415.8,166.8 414.9,163.2 414.6,160.2 420.8,159.7 418.8,165.1 415.8,166.8 M558.0,162.6 556.8,162.2 556.2,161.2 556.8,160.1 557.8,159.8 558.8,160.0 559.5,161.0 559.3,161.8 559.0,162.2 558.0,162.6 M447.2,165.3 446.5,165.5 446.3,165.2 446.3,162.2 446.5,162.0 454.0,161.8 456.2,162.0 456.6,162.2 456.2,163.2 455.2,163.7 449.8,164.6 447.2,165.3 M316.8,175.5 315.8,175.6 315.5,175.0 315.8,172.8 316.0,172.5 317.3,175.0 317.3,175.2 316.8,175.5 M211.8,177.0 210.5,176.8 211.2,175.2 212.5,174.1 214.2,173.4 215.0,173.8 215.9,174.8 215.9,175.5 215.2,176.2 211.8,177.0 M528.0,178.1 527.5,178.1 526.3,177.5 526.1,176.5 526.3,174.5 526.8,173.8 527.5,173.4 528.5,173.7 529.3,175.5 529.0,177.2 528.0,178.1 M298.8,181.0 298.3,180.8 298.4,180.2 298.8,179.5 300.0,178.5 301.0,178.8 302.5,180.0 298.8,181.0 M255.2,182.0 254.0,182.2 253.8,182.0 255.5,179.5 257.5,178.9 258.5,178.8 258.7,179.0 258.3,180.2 257.5,181.2 255.2,182.0 M235.2,193.5 233.0,193.7 232.9,193.5 233.4,192.0 234.7,190.2 236.2,188.9 238.3,189.5 238.4,189.8 237.8,191.2 236.2,193.1 235.2,193.5 M375.5,208.6 375.3,206.5 374.7,204.5 373.7,202.5 372.1,200.2 370.2,198.5 368.5,197.2 366.2,196.1 364.0,195.5 366.8,194.8 375.8,194.4 377.4,201.5 379.1,206.2 375.5,208.6 M460.0,198.0 457.5,198.2 455.1,197.8 455.0,194.5 455.2,194.3 458.0,194.3 460.4,195.0 460.0,198.0 M349.0,202.5 345.0,201.0 345.1,200.8 347.8,199.5 349.8,199.0 354.7,198.2 349.0,202.5 M549.0,207.3 548.2,207.2 549.0,204.9 549.8,204.8 553.8,205.2 557.2,204.6 560.2,203.4 563.0,201.2 564.8,203.0 570.1,206.2 569.0,206.4 562.8,205.6 557.5,205.6 552.0,206.5 549.0,207.3 M326.0,210.0 325.8,210.2 325.7,209.8 326.3,207.8 327.0,206.5 331.5,205.0 332.2,204.8 332.5,205.0 329.5,207.9 326.0,210.0 M609.2,212.5 609.1,212.2 609.3,211.5 609.9,210.5 611.2,209.7 614.0,208.8 616.5,208.6 617.5,208.8 616.5,209.8 614.8,210.9 612.5,211.7 609.2,212.5 M250.2,217.1 249.0,217.1 248.4,216.8 249.2,214.2 250.5,213.7 251.0,214.0 251.5,214.8 251.8,215.5 251.8,216.2 250.2,217.1 M286.0,245.6 283.0,242.5 281.2,240.2 285.8,240.5 294.2,241.6 296.8,241.5 300.8,240.7 303.2,239.5 305.0,238.2 307.0,236.2 308.2,234.8 309.2,232.8 309.9,230.5 310.4,226.8 310.0,216.8 310.2,216.7 313.8,217.9 316.5,218.1 313.0,225.2 310.2,232.5 309.2,237.8 309.3,243.5 304.0,242.4 297.8,242.1 291.8,243.2 288.0,244.5 286.0,245.6 M372.0,228.3 368.8,228.2 366.5,227.2 362.8,226.0 365.0,225.1 367.8,223.2 369.4,221.8 370.8,220.1 370.9,220.2 371.4,225.2 372.1,228.0 372.0,228.3 M220.2,236.3 218.2,236.3 217.8,234.8 218.3,233.0 219.2,231.8 219.8,231.4 220.8,233.2 221.3,235.0 221.0,236.0 220.2,236.3 M436.5,241.5 434.2,241.0 433.5,240.5 433.3,239.8 434.0,239.1 436.2,238.4 437.8,238.6 438.8,239.1 439.5,239.8 439.3,240.5 438.5,241.0 436.5,241.5 M385.5,246.5 385.2,246.6 385.1,246.2 385.1,243.2 384.8,241.5 385.0,241.2 389.0,242.8 396.2,244.2 398.0,245.0 397.8,245.2 395.8,244.8 391.8,244.7 385.5,246.5 M398.2,245.3 397.9,245.2 398.0,245.1 398.4,245.2 398.2,245.3 M362.0,259.1 361.7,259.0 362.5,256.8 362.8,254.8 363.0,254.6 366.0,255.9 370.3,256.8 367.2,258.4 362.0,259.1 M262.0,270.8 264.9,265.2 265.8,263.9 266.7,264.8 267.0,266.2 266.9,267.5 264.0,269.7 262.0,270.8 M346.0,272.2 343.5,271.6 341.9,270.8 343.2,269.4 345.0,268.4 348.0,268.0 346.0,272.2 M208.0,274.5 207.4,274.5 208.2,273.2 210.2,271.2 213.0,269.5 214.8,268.8 214.0,270.8 212.5,272.8 210.0,274.0 208.0,274.5 M304.0,279.3 303.6,279.2 304.2,279.2 304.0,279.3 M303.5,279.5 303.1,279.5 303.5,279.5 M240.0,284.1 238.8,284.2 237.5,283.9 237.3,282.5 237.5,281.6 238.0,280.9 241.8,281.4 241.4,283.0 240.0,284.1 M292.2,285.5 292.0,285.7 291.9,285.5 292.2,285.5 M279.0,291.0 276.8,290.8 277.5,289.7 278.8,288.7 281.0,287.9 286.0,287.3 291.0,285.7 291.8,285.6 292.0,285.8 287.8,288.6 286.2,289.3 282.5,290.6 279.0,291.0 M573.0,288.5 572.2,288.0 572.5,287.2 573.2,286.7 574.5,287.0 574.6,287.2 574.2,287.9 573.0,288.5 M224.2,308.3 223.0,308.3 222.2,307.8 222.0,305.2 222.1,304.8 223.0,303.7 224.4,305.8 224.8,306.8 224.8,307.2 224.2,308.3 M124.8,319.5 124.1,319.5 124.0,318.8 124.4,317.2 125.2,316.3 127.5,316.0 129.2,316.3 130.3,316.8 130.2,317.8 129.8,318.5 124.8,319.5 M209.0,327.5 208.8,327.5 208.1,326.5 207.5,324.8 208.5,323.0 209.5,322.2 210.8,324.8 210.2,326.5 209.0,327.5 M319.2,37.3 317.8,37.5 317.5,37.2 317.2,35.0 317.5,34.8 320.0,36.5 319.9,37.0 319.2,37.3 M615.0,38.3 614.5,38.5 613.8,38.2 613.2,37.8 613.3,37.5 614.0,37.0 615.2,37.1 615.8,37.8 615.0,38.3 M629.0,64.3 627.6,64.0 627.0,63.5 628.0,63.1 628.9,63.2 629.7,63.8 629.7,64.0 629.0,64.3 M582.2,78.0 581.5,78.1 580.8,77.8 580.5,77.0 580.8,76.5 581.5,76.2 582.5,76.5 582.8,77.2 582.2,78.0 M606.0,80.0 604.8,79.8 604.2,79.2 604.8,78.8 605.8,78.5 606.8,78.7 607.5,79.2 607.0,79.8 606.0,80.0 M360.8,88.5 360.5,88.5 359.1,87.0 360.2,86.7 362.2,86.7 361.8,87.6 360.8,88.5 M406.8,100.5 406.1,100.5 406.5,100.2 406.8,100.5 M352.5,113.6 350.9,110.8 350.8,109.4 351.3,109.8 352.8,112.0 352.9,112.5 352.5,113.6 M438.2,109.8 438.0,109.8 438.4,109.8 438.2,109.8 M420.2,114.8 419.8,115.0 419.6,114.8 419.2,112.4 426.2,112.8 420.2,114.8 M329.2,116.5 327.2,116.6 327.1,116.2 328.0,115.1 329.8,114.5 331.8,114.2 332.8,114.5 333.2,115.0 332.8,115.8 329.2,116.5 M494.5,116.0 493.5,115.9 493.0,115.5 492.8,115.0 493.2,114.5 494.5,114.1 495.8,114.7 495.9,115.0 495.8,115.5 494.5,116.0 M594.0,126.1 589.8,126.1 586.8,125.8 588.0,125.0 589.8,124.4 591.8,124.4 594.0,124.9 595.5,125.8 594.0,126.1 M638.0,141.8 636.5,141.7 636.0,141.2 635.9,140.8 637.2,140.0 638.5,140.3 639.1,141.0 638.5,141.7 638.0,141.8 M225.5,142.1 224.1,140.5 225.9,140.5 225.5,142.1 M380.2,144.0 378.8,144.2 373.0,144.2 371.2,144.0 371.0,143.8 371.2,142.8 371.8,142.5 373.5,142.3 377.5,142.3 379.2,142.7 380.7,143.8 380.2,144.0 M324.0,149.8 321.0,149.5 324.0,148.5 332.2,146.7 332.9,148.0 332.8,148.3 327.5,149.4 324.0,149.8 M305.0,152.8 303.8,152.9 303.4,152.8 306.0,149.5 307.8,150.4 310.2,151.2 307.5,152.2 305.0,152.8 M349.0,153.5 348.8,153.4 348.2,152.2 348.8,152.2 349.2,152.8 349.2,153.2 349.0,153.5 M558.0,162.0 557.2,161.9 556.8,161.2 557.2,160.4 558.5,160.4 558.9,161.0 558.6,161.8 558.0,162.0 M416.5,165.4 416.2,165.0 415.6,161.2 419.2,160.7 417.9,164.5 416.5,165.4 M447.5,164.6 447.0,164.7 446.9,164.5 447.0,162.6 453.8,162.4 455.8,162.8 455.0,163.2 449.8,164.0 447.5,164.6 M316.8,175.2 316.0,175.2 315.8,175.0 316.2,173.5 316.9,175.0 316.8,175.2 M212.8,176.3 211.5,176.5 211.4,176.2 212.2,175.1 213.5,174.3 214.2,174.0 215.4,175.0 215.0,175.6 212.8,176.3 M528.0,177.3 527.8,177.5 527.0,177.1 526.7,176.2 526.9,174.8 527.8,174.0 528.3,174.5 528.7,175.5 528.5,176.8 528.0,177.3 M299.8,180.3 299.0,180.5 298.8,180.2 300.0,179.0 300.6,179.0 301.4,179.8 299.8,180.3 M255.0,181.6 254.7,181.5 255.8,180.0 257.5,179.4 258.1,179.5 257.2,180.8 255.0,181.6 M234.5,193.1 233.7,193.0 234.1,192.0 235.5,190.2 236.5,189.6 237.6,190.0 237.2,191.0 236.0,192.5 235.5,192.8 234.5,193.1 M459.2,197.3 457.8,197.4 456.0,197.1 455.9,195.2 457.8,195.1 459.5,195.5 459.2,197.3 M376.8,206.1 376.5,206.2 375.3,203.0 373.4,200.0 371.0,197.5 368.8,196.0 369.8,195.8 374.8,195.6 376.2,201.8 377.5,205.5 376.8,206.1 M349.2,201.4 349.0,201.5 347.2,200.8 348.2,200.3 350.8,199.8 350.8,200.0 349.2,201.4 M567.0,205.3 562.8,204.8 559.3,204.8 561.0,203.8 563.0,202.3 564.3,203.5 567.0,205.3 M549.2,206.5 549.5,205.6 549.8,205.4 552.1,205.8 549.2,206.5 M327.0,208.6 326.9,208.2 327.5,207.1 329.8,206.4 329.0,207.3 327.0,208.6 M610.5,211.8 609.7,211.8 610.4,210.8 611.5,210.1 614.2,209.3 616.4,209.2 614.5,210.5 610.5,211.8 M250.5,216.3 249.5,216.5 249.2,216.2 249.6,214.8 250.2,214.4 250.8,214.6 251.2,215.8 251.2,216.0 250.5,216.3 M311.5,226.1 311.1,220.8 311.2,218.2 314.9,219.2 311.5,226.1 M370.8,227.1 369.0,227.2 365.9,225.8 369.8,222.8 370.0,223.0 370.8,227.1 M219.0,235.8 218.6,235.5 218.5,234.5 218.8,233.5 219.5,232.5 219.8,232.6 220.2,233.5 220.6,235.2 220.0,235.6 219.0,235.8 M308.0,242.1 302.7,241.2 302.6,241.0 305.2,239.4 308.0,236.7 308.2,237.0 308.0,242.1 M437.0,240.8 435.0,240.6 433.9,240.0 435.2,239.2 436.2,239.0 437.5,239.2 438.9,240.0 438.0,240.6 437.0,240.8 M286.5,244.3 286.0,244.5 283.8,242.0 283.4,241.5 283.5,241.3 290.2,241.9 291.7,242.2 286.5,244.3 M386.5,245.5 385.9,245.5 386.0,242.6 388.8,243.5 390.9,244.0 386.5,245.5 M365.5,258.0 363.0,258.2 362.8,258.0 363.4,255.8 363.5,255.6 365.8,256.5 367.8,257.0 368.0,257.2 367.0,257.7 365.5,258.0 M264.0,269.1 263.8,269.2 263.6,269.0 265.6,265.0 266.0,264.8 266.5,266.2 266.4,267.2 264.0,269.1 M345.8,271.4 345.0,271.3 343.0,270.5 345.4,269.0 346.8,268.9 345.8,271.4 M208.8,273.8 208.6,273.8 208.7,273.5 210.5,271.7 213.8,269.8 213.6,270.5 212.2,272.3 211.2,272.9 208.8,273.8 M239.5,283.5 238.8,283.6 238.0,283.3 237.9,282.5 238.2,281.6 241.0,282.0 240.8,282.8 240.2,283.3 239.5,283.5 M573.5,288.0 573.0,288.2 572.5,287.8 573.2,287.1 574.2,287.2 574.0,287.7 573.5,288.0 M280.0,290.3 278.5,290.5 277.9,290.2 279.0,289.2 281.0,288.5 286.0,287.9 288.0,287.3 288.3,287.5 286.2,288.7 283.5,289.7 281.2,290.2 280.0,290.3 M223.8,307.8 222.7,307.5 222.5,305.5 223.0,304.5 224.3,307.0 223.8,307.8 M125.5,318.8 124.7,318.8 125.0,317.5 125.5,316.9 127.2,316.7 129.2,317.0 129.6,317.2 129.5,317.8 129.2,317.9 125.5,318.8 M209.0,326.8 208.3,325.5 208.2,324.8 209.2,323.1 209.6,323.5 210.2,324.8 209.8,326.0 209.0,326.8"/>
<ellipse cx="614.6" cy="37.8" rx="4.08" ry="3.7199999999999998" fill="url(#pc)"/>
<ellipse cx="581.8" cy="77.3" rx="4.919999999999999" ry="4.8" fill="url(#pc)"/>
<ellipse cx="606.0" cy="79.4" rx="4.62" ry="4.02" fill="url(#pc)"/>
<ellipse cx="494.5" cy="115.2" rx="5.28" ry="4.919999999999999" fill="url(#pc)"/>
<ellipse cx="637.6" cy="141.1" rx="5.159999999999999" ry="4.74" fill="url(#pc)"/>
<ellipse cx="558.0" cy="161.3" rx="4.2" ry="4.08" fill="url(#pc)"/>
<ellipse cx="527.8" cy="175.9" rx="4.919999999999999" ry="5.3999999999999995" fill="url(#pc)"/>
<ellipse cx="517.0" cy="185.5" rx="3.12" ry="4.68" transform="rotate(-15 517.0 185.5)" fill="url(#pc)"/>
<ellipse cx="436.5" cy="240.1" rx="5.7" ry="4.74" fill="url(#pc)"/>
<ellipse cx="573.5" cy="287.7" rx="2.6999999999999997" ry="2.4" transform="rotate(-20 573.5 287.7)" fill="url(#pc)"/>
<ellipse cx="628.5" cy="63.8" rx="3.3" ry="2.76" transform="rotate(10 628.5 63.8)" fill="url(#pc)"/>
<circle cx="307" cy="152" r="5" fill="url(#pc)"/>
<circle cx="325" cy="149" r="5" fill="url(#pc)"/>
<circle cx="349.5" cy="153.5" r="3" fill="url(#pc)"/>
<circle cx="374" cy="142" r="6" fill="url(#pc)"/>
<circle cx="393" cy="150" r="3" fill="url(#pc)"/>
<circle cx="418" cy="162" r="7" fill="url(#pc)"/>
<circle cx="409" cy="101" r="4" fill="url(#pc)"/>
<circle cx="430" cy="112" r="7" fill="url(#pc)"/>
<circle cx="310" cy="222" r="7" fill="url(#pc)"/>
<circle cx="313" cy="240" r="6" fill="url(#pc)"/>
<circle cx="323" cy="251" r="4" fill="url(#pc)"/>
<circle cx="285" cy="243" r="6" fill="url(#pc)"/>
<circle cx="340" cy="202" r="5" fill="url(#pc)"/>
<circle cx="372" cy="190" r="5" fill="url(#pc)"/>
<circle cx="385" cy="210" r="5" fill="url(#pc)"/>
<circle cx="358" cy="226" r="5" fill="url(#pc)"/>
<circle cx="383" cy="232" r="5" fill="url(#pc)"/>
<circle cx="398" cy="245" r="5" fill="url(#pc)"/>
<circle cx="365" cy="258" r="5" fill="url(#pc)"/>
<circle cx="345" cy="270" r="6" fill="url(#pc)"/>
<circle cx="563.5" cy="190" r="4" fill="url(#pc)"/>
<circle cx="549" cy="206" r="6" fill="url(#pc)"/>
<circle cx="571" cy="207" r="5" fill="url(#pc)"/>
<circle cx="560" cy="206" r="4" fill="url(#pc)"/>
<circle cx="214.8" cy="174.8" r="6" fill="url(#pc)"/>
<circle cx="235.3" cy="191.1" r="6" fill="url(#pc)"/>
<circle cx="255.9" cy="180.6" r="5" fill="url(#pc)"/>
<circle cx="300.7" cy="179.2" r="4" fill="url(#pc)"/>
<circle cx="316.6" cy="174" r="3" fill="url(#pc)"/>
<circle cx="361.2" cy="87.5" r="5" fill="url(#pc)"/>
<circle cx="331.6" cy="115.4" r="6" fill="url(#pc)"/>
<circle cx="351.7" cy="111.5" r="4" fill="url(#pc)"/>
<circle cx="225.5" cy="141.5" r="3.5" fill="url(#pc)"/>
<circle cx="251.8" cy="214.5" r="5" fill="url(#pc)"/>
<circle cx="220.6" cy="232.9" r="5" fill="url(#pc)"/>
<circle cx="319" cy="36" r="6" fill="url(#pc)"/>
<circle cx="452" cy="163.5" r="7" fill="url(#pc)"/>
<circle cx="457.5" cy="196" r="7" fill="url(#pc)"/>
<circle cx="211" cy="271.5" r="6" fill="url(#pc)"/>
<circle cx="223.5" cy="306" r="5" fill="url(#pc)"/>
<circle cx="209.5" cy="325" r="6" fill="url(#pc)"/>
<circle cx="239.5" cy="283" r="6" fill="url(#pc)"/>
<circle cx="266" cy="267" r="5" fill="url(#pc)"/>
<circle cx="280" cy="289" r="5" fill="url(#pc)"/>
<circle cx="298" cy="281" r="5" fill="url(#pc)"/>
<circle cx="127" cy="317.5" r="6" fill="url(#pc)"/>
<circle cx="613.7" cy="211" r="6" fill="url(#pc)"/>
<circle cx="614.6" cy="37.8" r="1.1" fill="#fff"/>
<circle cx="581.8" cy="77.3" r="1.1" fill="#fff"/>
<circle cx="606.0" cy="79.4" r="1.1" fill="#fff"/>
<circle cx="494.5" cy="115.2" r="1.1" fill="#fff"/>
<circle cx="637.6" cy="141.1" r="1.1" fill="#fff"/>
<circle cx="558.0" cy="161.3" r="1.1" fill="#fff"/>
<circle cx="527.8" cy="175.9" r="1.1" fill="#fff"/>
<circle cx="517.0" cy="185.5" r="1.1" fill="#fff"/>
<circle cx="436.5" cy="240.1" r="1.1" fill="#fff"/>
<circle cx="573.5" cy="287.7" r="1.1" fill="#fff"/>
<circle cx="628.5" cy="63.8" r="1.1" fill="#fff"/>
<circle cx="307" cy="152" r="1.0" fill="#fff"/>
<circle cx="325" cy="149" r="1.0" fill="#fff"/>
<circle cx="349.5" cy="153.5" r="1.0" fill="#fff"/>
<circle cx="374" cy="142" r="1.0" fill="#fff"/>
<circle cx="393" cy="150" r="1.0" fill="#fff"/>
<circle cx="418" cy="162" r="1.0" fill="#fff"/>
<circle cx="409" cy="101" r="1.0" fill="#fff"/>
<circle cx="430" cy="112" r="1.0" fill="#fff"/>
<circle cx="310" cy="222" r="1.0" fill="#fff"/>
<circle cx="313" cy="240" r="1.0" fill="#fff"/>
<circle cx="323" cy="251" r="1.0" fill="#fff"/>
<circle cx="285" cy="243" r="1.0" fill="#fff"/>
<circle cx="340" cy="202" r="1.0" fill="#fff"/>
<circle cx="372" cy="190" r="1.0" fill="#fff"/>
<circle cx="385" cy="210" r="1.0" fill="#fff"/>
<circle cx="358" cy="226" r="1.0" fill="#fff"/>
<circle cx="383" cy="232" r="1.0" fill="#fff"/>
<circle cx="398" cy="245" r="1.0" fill="#fff"/>
<circle cx="365" cy="258" r="1.0" fill="#fff"/>
<circle cx="345" cy="270" r="1.0" fill="#fff"/>
<circle cx="563.5" cy="190" r="1.0" fill="#fff"/>
<circle cx="549" cy="206" r="1.0" fill="#fff"/>
<circle cx="571" cy="207" r="1.0" fill="#fff"/>
<circle cx="560" cy="206" r="1.0" fill="#fff"/>
<circle cx="214.8" cy="174.8" r="1.0" fill="#fff"/>
<circle cx="235.3" cy="191.1" r="1.0" fill="#fff"/>
<circle cx="255.9" cy="180.6" r="1.0" fill="#fff"/>
<circle cx="300.7" cy="179.2" r="1.0" fill="#fff"/>
<circle cx="316.6" cy="174" r="1.0" fill="#fff"/>
<circle cx="361.2" cy="87.5" r="1.0" fill="#fff"/>
<circle cx="331.6" cy="115.4" r="1.0" fill="#fff"/>
<circle cx="351.7" cy="111.5" r="1.0" fill="#fff"/>
<circle cx="225.5" cy="141.5" r="1.0" fill="#fff"/>
<circle cx="251.8" cy="214.5" r="1.0" fill="#fff"/>
<circle cx="220.6" cy="232.9" r="1.0" fill="#fff"/>
<circle cx="319" cy="36" r="1.0" fill="#fff"/>
<circle cx="452" cy="163.5" r="1.0" fill="#fff"/>
<circle cx="457.5" cy="196" r="1.0" fill="#fff"/>
<circle cx="211" cy="271.5" r="1.0" fill="#fff"/>
<circle cx="223.5" cy="306" r="1.0" fill="#fff"/>
<circle cx="209.5" cy="325" r="1.0" fill="#fff"/>
<circle cx="239.5" cy="283" r="1.0" fill="#fff"/>
<circle cx="266" cy="267" r="1.0" fill="#fff"/>
<circle cx="280" cy="289" r="1.0" fill="#fff"/>
<circle cx="298" cy="281" r="1.0" fill="#fff"/>
<circle cx="127" cy="317.5" r="1.0" fill="#fff"/>
<circle cx="613.7" cy="211" r="1.0" fill="#fff"/>
<ellipse cx="440.0" cy="14.2" rx="10.8" ry="5.6" transform="rotate(-15 440.0 14.2)" fill="#ff5a5a" stroke="#ff0000" stroke-width="1.2"/>
<ellipse cx="440.0" cy="14.2" rx="5.940000000000001" ry="3.08" transform="rotate(-15 440.0 14.2)" fill="#ffe0e0" stroke="#ff2a2a" stroke-width="0.9"/>
<ellipse cx="456.6" cy="41.1" rx="2.6" ry="2.8" fill="#ff9a9a" stroke="#ff0000" stroke-width="1.2"/>
<ellipse cx="444.3" cy="42.2" rx="1.8" ry="2.8" fill="#ffe8e8" stroke="#ff0000" stroke-width="1.2"/>
<ellipse cx="504.8" cy="78.0" rx="2.3" ry="3.3" fill="#ffe8e8" stroke="#ff0000" stroke-width="1.2"/>
<ellipse cx="510.0" cy="99.4" rx="6.5" ry="3.6" transform="rotate(-35 510.0 99.4)" fill="#ffe4e4" stroke="#ff0000" stroke-width="1.2"/>
<ellipse cx="510.0" cy="99.4" rx="3.575" ry="1.9800000000000002" transform="rotate(-35 510.0 99.4)" fill="#ffe0e0" stroke="#ff2a2a" stroke-width="0.9"/>
<ellipse cx="519.1" cy="101.6" rx="5.0" ry="3.0" transform="rotate(55 519.1 101.6)" fill="#ffe4e4" stroke="#ff0000" stroke-width="1.2"/>
<ellipse cx="529.6" cy="106.0" rx="1.6" ry="1.8" fill="#ffd0d0" stroke="#ff0000" stroke-width="1.2"/>
<ellipse cx="451.4" cy="128.3" rx="3.0" ry="4.3" transform="rotate(25 451.4 128.3)" fill="#ffe0e0" stroke="#ff0000" stroke-width="1.2"/>
<ellipse cx="496.0" cy="152.0" rx="9.0" ry="7.0" transform="rotate(-20 496.0 152.0)" fill="#ff8080" stroke="#ff0000" stroke-width="1.2"/>
<ellipse cx="496.0" cy="152.0" rx="4.95" ry="3.8500000000000005" transform="rotate(-20 496.0 152.0)" fill="#ffe0e0" stroke="#ff2a2a" stroke-width="0.9"/>
<ellipse cx="509.5" cy="146.3" rx="8.0" ry="4.8" transform="rotate(-25 509.5 146.3)" fill="#ff8080" stroke="#ff0000" stroke-width="1.2"/>
<ellipse cx="509.5" cy="146.3" rx="4.4" ry="2.64" transform="rotate(-25 509.5 146.3)" fill="#ffe0e0" stroke="#ff2a2a" stroke-width="0.9"/>
<ellipse cx="547.0" cy="161.2" rx="2.8" ry="3.2" transform="rotate(20 547.0 161.2)" fill="#ffd8d8" stroke="#ff0000" stroke-width="1.2"/>
<ellipse cx="627.0" cy="174.6" rx="4.8" ry="5.5" transform="rotate(20 627.0 174.6)" fill="#ff8a8a" stroke="#ff0000" stroke-width="1.2"/>
<ellipse cx="627.0" cy="174.6" rx="2.64" ry="3.0250000000000004" transform="rotate(20 627.0 174.6)" fill="#ffe0e0" stroke="#ff2a2a" stroke-width="0.9"/>
<ellipse cx="506.4" cy="187.0" rx="2.5" ry="4.0" fill="#ffe0e0" stroke="#ff0000" stroke-width="1.2"/>
<ellipse cx="536.2" cy="187.2" rx="4.8" ry="6.6" transform="rotate(25 536.2 187.2)" fill="#ff9090" stroke="#ff0000" stroke-width="1.2"/>
<ellipse cx="536.2" cy="187.2" rx="2.64" ry="3.63" transform="rotate(25 536.2 187.2)" fill="#ffe0e0" stroke="#ff2a2a" stroke-width="0.9"/>
<ellipse cx="309.4" cy="303.2" rx="7.0" ry="5.3" fill="#ff8a8a" stroke="#ff0000" stroke-width="1.2"/>
<ellipse cx="309.4" cy="303.2" rx="3.8500000000000005" ry="2.915" fill="#ffe0e0" stroke="#ff2a2a" stroke-width="0.9"/>
<ellipse cx="275.5" cy="322.2" rx="1.8" ry="1.8" fill="#ffd0d0" stroke="#ff0000" stroke-width="1.2"/>
<ellipse cx="389.5" cy="281.2" rx="6.5" ry="4.2" transform="rotate(-45 389.5 281.2)" fill="#ffb0b0" stroke="#ff0000" stroke-width="1.2"/>
<ellipse cx="389.5" cy="281.2" rx="3.575" ry="2.3100000000000005" transform="rotate(-45 389.5 281.2)" fill="#ffe0e0" stroke="#ff2a2a" stroke-width="0.9"/>
<ellipse cx="360.3" cy="145.5" rx="2.6" ry="3.5" fill="#ffd0d0" stroke="#ff0000" stroke-width="1.2"/>
<path d="M462,101.5 C459,100.5 454,99 454.2,96.6 C454.5,94.2 457.5,93.6 460.5,95.6 L462,96.8 L463.5,95.6 C466.5,93.6 469,94.5 468.8,96.8 C468.6,99 465,100.5 462,101.5 Z" fill="#ffd0d0" stroke="#ff1010" stroke-width="1.2"/>
<ellipse cx="458" cy="97.3" rx="1.8" ry="1.3" fill="none" stroke="#ff3030" stroke-width="0.8"/>
<ellipse cx="465.5" cy="97.3" rx="1.6" ry="1.2" fill="none" stroke="#ff3030" stroke-width="0.8"/>
<path d="M386,305.3 C389,305.3 391,306.6 392.5,307 C394,306.4 396,305.3 398.5,305.3 C401,305.3 402.4,307 402.4,309 C402.4,311.2 400.8,312.8 398.3,312.8 C396,312.8 394,311.6 392.5,311.2 C391,311.6 389,312.9 386,312.9 C383.6,312.9 382.2,311 382.2,309 C382.2,307 383.6,305.3 386,305.3 Z" fill="#ffb8b8" stroke="#ff0000" stroke-width="1.2"/>
<ellipse cx="386.5" cy="309" rx="2.6" ry="1.6" fill="#ffe8e8" stroke="#ff3030" stroke-width="0.8"/>
<ellipse cx="398.3" cy="309" rx="2.2" ry="1.5" fill="#ffe8e8" stroke="#ff3030" stroke-width="0.8"/>
<ellipse cx="582" cy="128" rx="5" ry="3" fill="#ff9090" stroke="#ff3030" stroke-width="0.8"/>
<ellipse cx="594" cy="125.5" rx="5" ry="4" fill="url(#pc)"/>
<circle cx="593.5" cy="126" r="1.1" fill="#fff"/>
<circle cx="125.3" cy="177.4" r="4.4" fill="none" stroke="#9a9a9a" stroke-width="0.8"/>
</g>
<g stroke="#000" stroke-width="1.4" stroke-linecap="butt">
<line x1="310" y1="27" x2="321" y2="36"/>
<line x1="430" y1="22" x2="440" y2="14"/>
<line x1="451" y1="35" x2="457" y2="40"/>
<line x1="612" y1="30" x2="615" y2="38"/>
<line x1="365.1" y1="78" x2="361.2" y2="88"/>
<line x1="416.1" y1="81.5" x2="408.6" y2="98.8"/>
<line x1="462.1" y1="91.3" x2="462.5" y2="95"/>
<line x1="580" y1="70" x2="583" y2="78"/>
<line x1="437.2" y1="98.5" x2="434.2" y2="104.8"/>
<line x1="532" y1="101" x2="530" y2="105"/>
<line x1="323.8" y1="106.4" x2="331.1" y2="114.8"/>
<line x1="348.9" y1="104.2" x2="351.5" y2="109.8"/>
<line x1="413.9" y1="112.8" x2="421.4" y2="112.8"/>
<line x1="437.2" y1="111.3" x2="444.8" y2="111.6"/>
<line x1="496" y1="115" x2="505" y2="115"/>
<line x1="591" y1="119" x2="593" y2="125"/>
<line x1="637" y1="134" x2="638" y2="140"/>
<line x1="455" y1="127" x2="458" y2="129"/>
<line x1="304.3" y1="136.7" x2="307.4" y2="144.8"/>
<line x1="332.3" y1="136.7" x2="334.1" y2="142.1"/>
<line x1="219.8" y1="137.2" x2="224.8" y2="141.1"/>
<line x1="409" y1="139" x2="398" y2="152"/>
<line x1="502" y1="141" x2="504" y2="146"/>
<line x1="364.8" y1="141.2" x2="372" y2="144.8"/>
<line x1="392" y1="142" x2="388" y2="148"/>
<line x1="293.4" y1="142.1" x2="303.4" y2="148.4"/>
<line x1="456" y1="155" x2="452" y2="163"/>
<line x1="556" y1="154" x2="557" y2="160"/>
<line x1="290.7" y1="152" x2="294.3" y2="155.7"/>
<line x1="637" y1="150" x2="636" y2="147"/>
<line x1="135.4" y1="162.7" x2="125.3" y2="176.4"/>
<line x1="325.4" y1="151.1" x2="325.4" y2="154.8"/>
<line x1="526.5" y1="166.5" x2="526.5" y2="174.9"/>
<line x1="211" y1="168" x2="214" y2="174"/>
<line x1="251" y1="170" x2="256" y2="180"/>
<line x1="616" y1="171" x2="627" y2="175"/>
<line x1="453" y1="166" x2="458" y2="169"/>
<line x1="384" y1="178" x2="382" y2="186"/>
<line x1="293.9" y1="176.3" x2="299.7" y2="178.6"/>
<line x1="321.8" y1="173.7" x2="317.3" y2="174"/>
<line x1="422" y1="172" x2="428" y2="177"/>
<line x1="540.9" y1="184.6" x2="538.1" y2="187.9"/>
<line x1="357" y1="185" x2="362" y2="188"/>
<line x1="409" y1="178" x2="417" y2="161"/>
<line x1="568" y1="187" x2="564" y2="190"/>
<line x1="470" y1="186" x2="462" y2="193"/>
<line x1="337" y1="196" x2="336" y2="199"/>
<line x1="354" y1="197" x2="352" y2="201"/>
<line x1="374.5" y1="193" x2="374.5" y2="200"/>
<line x1="224.3" y1="193.8" x2="235.2" y2="191"/>
<line x1="400" y1="200" x2="382" y2="212"/>
<line x1="314" y1="206" x2="323" y2="213"/>
<line x1="516.5" y1="187" x2="516.5" y2="192.5"/>
<line x1="248.5" y1="206.5" x2="249.6" y2="209.5"/>
<line x1="384" y1="203" x2="386" y2="206"/>
<line x1="620.3" y1="206.3" x2="616.8" y2="209.4"/>
<line x1="304" y1="211" x2="307" y2="214"/>
<line x1="390" y1="210" x2="397" y2="210"/>
<line x1="362" y1="219" x2="362" y2="224"/>
<line x1="458" y1="203" x2="459" y2="210"/>
<line x1="254.6" y1="214.3" x2="258" y2="214.3"/>
<line x1="242.4" y1="214.5" x2="248.5" y2="214.5"/>
<line x1="306" y1="224" x2="312" y2="227"/>
<line x1="378" y1="224" x2="375" y2="228"/>
<line x1="549.2" y1="207.4" x2="549.2" y2="213.5"/>
<line x1="571" y1="208.8" x2="571" y2="214.9"/>
<line x1="320" y1="216" x2="331" y2="222"/>
<line x1="213.9" y1="229.6" x2="219.5" y2="232.3"/>
<line x1="375" y1="233" x2="382" y2="233"/>
<line x1="315" y1="233" x2="318" y2="235"/>
<line x1="296" y1="236" x2="304" y2="236"/>
<line x1="375" y1="240" x2="380" y2="242"/>
<line x1="271" y1="242" x2="282" y2="243"/>
<line x1="388" y1="242" x2="392" y2="242"/>
<line x1="441" y1="238" x2="447" y2="243"/>
<line x1="330" y1="250" x2="325" y2="256"/>
<line x1="305" y1="247" x2="310" y2="241"/>
<line x1="361" y1="250" x2="363" y2="254"/>
<line x1="264" y1="262" x2="267" y2="268"/>
<line x1="402" y1="250" x2="414" y2="254"/>
<line x1="311.8" y1="250.6" x2="311.8" y2="267.4"/>
<line x1="208" y1="270" x2="212" y2="273"/>
<line x1="303" y1="273" x2="303" y2="280"/>
<line x1="255" y1="268" x2="258" y2="270"/>
<line x1="316" y1="262" x2="317" y2="268"/>
<line x1="368" y1="262" x2="375" y2="268"/>
<line x1="280" y1="285" x2="278" y2="280"/>
<line x1="244" y1="283" x2="240" y2="287"/>
<line x1="230" y1="290" x2="238" y2="286"/>
<line x1="390" y1="286" x2="389" y2="282"/>
<line x1="125.9" y1="317.1" x2="140.9" y2="306.1"/>
<line x1="272" y1="297" x2="276" y2="290"/>
<line x1="210" y1="307" x2="222" y2="307"/>
<line x1="348" y1="270" x2="348" y2="283"/>
<line x1="374.8" y1="130" x2="374.8" y2="138"/>
<line x1="423" y1="155" x2="419" y2="160"/>
<line x1="350.4" y1="153.9" x2="354.9" y2="156.6"/>
<line x1="290.7" y1="288.4" x2="290.7" y2="307.4"/>
<line x1="267" y1="321" x2="275" y2="322"/>
<line x1="389" y1="311" x2="391" y2="317"/>
<line x1="210" y1="325" x2="222" y2="329"/>
</g>
<g class="lab">
<text transform="translate(298.1 30.1) scale(1.03 1)">G110</text>
<text transform="translate(413.9 31.6) scale(1.03 1)">G95</text>
<text transform="translate(446.5 34.8) scale(1.03 1)">S93</text>
<text transform="translate(595.6 29.1) scale(1.03 1)">G120</text>
<text transform="translate(346.7 77.1) scale(1.03 1)">G119</text>
<text transform="translate(406.4 78.4) scale(1.03 1)">Q107</text>
<text transform="translate(453.0 90.2) scale(1.03 1)">I65</text>
<text transform="translate(567.2 69.5) scale(1.03 1)">K25</text>
<text transform="translate(419.4 98.1) scale(1.03 1)">Y123</text>
<text transform="translate(525.9 99.8) scale(1.03 1)">Q91</text>
<text transform="translate(294.2 104.9) scale(1.03 1)">D122</text>
<text transform="translate(340.0 103.2) scale(1.03 1)">V23</text>
<text transform="translate(385.5 116.9) scale(1.03 1)">N35</text>
<text transform="translate(445.2 117.6) scale(1.03 1)">R84</text>
<text transform="translate(504.9 120.9) scale(1.03 1)">S34</text>
<text transform="translate(574.7 118.4) scale(1.03 1)">N96</text>
<text transform="translate(359.2 129.5) scale(1.03 1)">K124</text>
<text transform="translate(621.2 133.9) scale(1.03 1)">E39</text>
<text transform="translate(456.6 134.9) scale(1.03 1)">D108</text>
<text transform="translate(293.8 134.0) scale(1.03 1)">T22</text>
<text transform="translate(314.9 135.8) scale(1.03 1)">F42</text>
<text transform="translate(201.3 136.4) scale(1.03 1)">G33</text>
<text transform="translate(405.9 137.0) scale(1.03 1)">Y81</text>
<text transform="translate(491.1 140.6) scale(1.03 1)">A52</text>
<text transform="translate(341.0 140.7) scale(1.03 1)">V104</text>
<text transform="translate(379.6 141.2) scale(1.03 1)">Q47</text>
<text transform="translate(271.9 142.1) scale(1.03 1)">D90</text>
<text transform="translate(407.2 152.4) scale(1.03 1)">R125</text>
<text transform="translate(443.9 152.9) scale(1.03 1)">A51</text>
<text transform="translate(544.3 153.3) scale(1.03 1)">L94</text>
<text transform="translate(267.1 153.4) scale(1.03 1)">W57</text>
<text transform="translate(620.6 160.6) scale(1.03 1)">E71</text>
<text transform="translate(135.9 161.7) scale(1.03 1)">S80</text>
<text transform="translate(354.7 162.4) scale(1.03 1)">T102</text>
<text transform="translate(314.6 164.7) scale(1.03 1)">C40</text>
<text transform="translate(512.2 166.5) scale(1.03 1)">A85</text>
<text transform="translate(189.8 169.6) scale(1.03 1)">R113</text>
<text transform="translate(233.0 170.0) scale(1.03 1)">E58</text>
<text transform="translate(594.9 172.2) scale(1.03 1)">Q77</text>
<text transform="translate(457.2 176.4) scale(1.03 1)">D103</text>
<text transform="translate(380.3 175.9) scale(1.03 1)">K62</text>
<text transform="translate(272.0 178.0) scale(1.03 1)">R86</text>
<text transform="translate(321.3 176.4) scale(1.03 1)">S127</text>
<text transform="translate(426.8 183.3) scale(1.03 1)">T37</text>
<text transform="translate(539.8 183.0) scale(1.03 1)">L53</text>
<text transform="translate(340.9 185.6) scale(1.03 1)">D26</text>
<text transform="translate(391.1 189.5) scale(1.03 1)">A121</text>
<text transform="translate(568.7 190.0) scale(1.03 1)">R82</text>
<text transform="translate(461.6 191.8) scale(1.03 1)">V130</text>
<text transform="translate(323.7 196.8) scale(1.03 1)">I38</text>
<text transform="translate(340.0 197.4) scale(1.03 1)">V116</text>
<text transform="translate(378.1 198.8) scale(1.03 1)">E31</text>
<text transform="translate(202.4 200.6) scale(1.03 1)">I126</text>
<text transform="translate(401.2 202.3) scale(1.03 1)">I116</text>
<text transform="translate(296.4 203.8) scale(1.03 1)">V30</text>
<text transform="translate(500.8 205.4) scale(1.03 1)">L92</text>
<text transform="translate(239.0 206.1) scale(1.03 1)">N63</text>
<text transform="translate(362.2 206.6) scale(1.03 1)">L106</text>
<text transform="translate(623.1 209.3) scale(1.03 1)">T20</text>
<text transform="translate(282.7 212.2) scale(1.03 1)">M36</text>
<text transform="translate(397.3 214.3) scale(1.03 1)">S79</text>
<text transform="translate(353.1 218.1) scale(1.03 1)">C114</text>
<text transform="translate(448.0 218.1) scale(1.03 1)">V44</text>
<text transform="translate(257.4 218.3) scale(1.03 1)">E72</text>
<text transform="translate(221.5 219.5) scale(1.03 1)">H69</text>
<text transform="translate(279.4 225.8) scale(1.03 1)">M115</text>
<text transform="translate(378.1 225.9) scale(1.03 1)">V29</text>
<text transform="translate(527.3 225.9) scale(1.03 1)">A109</text>
<text transform="translate(560.3 226.5) scale(1.03 1)">L27</text>
<text transform="translate(332.2 226.5) scale(1.03 1)">I64</text>
<text transform="translate(195.9 229.7) scale(1.03 1)">Y56</text>
<text transform="translate(382.7 237.0) scale(1.03 1)">A132</text>
<text transform="translate(317.9 237.7) scale(1.03 1)">T127</text>
<text transform="translate(278.2 240.2) scale(1.03 1)">L87</text>
<text transform="translate(355.2 243.4) scale(1.03 1)">Y32</text>
<text transform="translate(251.5 244.6) scale(1.03 1)">V55</text>
<text transform="translate(391.4 245.9) scale(1.03 1)">E45</text>
<text transform="translate(447.0 248.4) scale(1.03 1)">V68</text>
<text transform="translate(327.2 248.0) scale(1.03 1)">D49</text>
<text transform="translate(286.4 251.5) scale(1.03 1)">D73</text>
<text transform="translate(348.2 252.6) scale(1.03 1)">L50</text>
<text transform="translate(243.9 258.7) scale(1.03 1)">Y28</text>
<text transform="translate(413.5 259.7) scale(1.03 1)">L99</text>
<text transform="translate(313.9 266.0) scale(1.03 1)">Q66</text>
<text transform="translate(192.2 269.1) scale(1.03 1)">V21</text>
<text transform="translate(282.8 270.0) scale(1.03 1)">Q100</text>
<text transform="translate(228.2 271.2) scale(1.03 1)">K105</text>
<text transform="translate(308.9 275.9) scale(1.03 1)">N131</text>
<text transform="translate(374.5 274.8) scale(1.03 1)">L48</text>
<text transform="translate(269.0 279.0) scale(1.03 1)">I54</text>
<text transform="translate(246.0 290.4) scale(1.03 1)">A98</text>
<text transform="translate(343.3 293.7) scale(1.03 1)">L88</text>
<text transform="translate(206.4 295.5) scale(1.03 1)">V128</text>
<text transform="translate(379.4 297.3) scale(1.03 1)">K89</text>
<text transform="translate(141.6 308.0) scale(1.03 1)">Y112</text>
<text transform="translate(256.7 308.4) scale(1.03 1)">H78</text>
<text transform="translate(183.5 311.1) scale(1.03 1)">K129</text>
<text transform="translate(283.5 318.4) scale(1.03 1)">I101</text>
<text transform="translate(248.1 321.1) scale(1.03 1)">F67</text>
<text transform="translate(375.9 328.6) scale(1.03 1)">Y118</text>
<text transform="translate(224.2 333.9) scale(1.03 1)">A97</text>
</g>
<g>
<rect x="104.3" y="2.3" width="556.7" height="350.8" fill="none" stroke="#000" stroke-width="3.6"/>
<line x1="106.6" y1="354" x2="106.6" y2="356.5" stroke="#000" stroke-width="2.6"/>
<line x1="122.0" y1="354" x2="122.0" y2="362.6" stroke="#000" stroke-width="3"/>
<line x1="137.5" y1="354" x2="137.5" y2="356.5" stroke="#000" stroke-width="2.6"/>
<line x1="153.0" y1="354" x2="153.0" y2="356.5" stroke="#000" stroke-width="2.6"/>
<line x1="168.5" y1="354" x2="168.5" y2="356.5" stroke="#000" stroke-width="2.6"/>
<line x1="184.0" y1="354" x2="184.0" y2="356.5" stroke="#000" stroke-width="2.6"/>
<line x1="199.4" y1="354" x2="199.4" y2="362.6" stroke="#000" stroke-width="3"/>
<line x1="214.9" y1="354" x2="214.9" y2="356.5" stroke="#000" stroke-width="2.6"/>
<line x1="230.4" y1="354" x2="230.4" y2="356.5" stroke="#000" stroke-width="2.6"/>
<line x1="245.9" y1="354" x2="245.9" y2="356.5" stroke="#000" stroke-width="2.6"/>
<line x1="261.3" y1="354" x2="261.3" y2="356.5" stroke="#000" stroke-width="2.6"/>
<line x1="276.8" y1="354" x2="276.8" y2="362.6" stroke="#000" stroke-width="3"/>
<line x1="292.3" y1="354" x2="292.3" y2="356.5" stroke="#000" stroke-width="2.6"/>
<line x1="307.8" y1="354" x2="307.8" y2="356.5" stroke="#000" stroke-width="2.6"/>
<line x1="323.2" y1="354" x2="323.2" y2="356.5" stroke="#000" stroke-width="2.6"/>
<line x1="338.7" y1="354" x2="338.7" y2="356.5" stroke="#000" stroke-width="2.6"/>
<line x1="354.2" y1="354" x2="354.2" y2="362.6" stroke="#000" stroke-width="3"/>
<line x1="369.7" y1="354" x2="369.7" y2="356.5" stroke="#000" stroke-width="2.6"/>
<line x1="385.1" y1="354" x2="385.1" y2="356.5" stroke="#000" stroke-width="2.6"/>
<line x1="400.6" y1="354" x2="400.6" y2="356.5" stroke="#000" stroke-width="2.6"/>
<line x1="416.1" y1="354" x2="416.1" y2="356.5" stroke="#000" stroke-width="2.6"/>
<line x1="431.6" y1="354" x2="431.6" y2="362.6" stroke="#000" stroke-width="3"/>
<line x1="447.0" y1="354" x2="447.0" y2="356.5" stroke="#000" stroke-width="2.6"/>
<line x1="462.5" y1="354" x2="462.5" y2="356.5" stroke="#000" stroke-width="2.6"/>
<line x1="478.0" y1="354" x2="478.0" y2="356.5" stroke="#000" stroke-width="2.6"/>
<line x1="493.5" y1="354" x2="493.5" y2="356.5" stroke="#000" stroke-width="2.6"/>
<line x1="508.9" y1="354" x2="508.9" y2="362.6" stroke="#000" stroke-width="3"/>
<line x1="524.4" y1="354" x2="524.4" y2="356.5" stroke="#000" stroke-width="2.6"/>
<line x1="539.9" y1="354" x2="539.9" y2="356.5" stroke="#000" stroke-width="2.6"/>
<line x1="555.4" y1="354" x2="555.4" y2="356.5" stroke="#000" stroke-width="2.6"/>
<line x1="570.8" y1="354" x2="570.8" y2="356.5" stroke="#000" stroke-width="2.6"/>
<line x1="586.3" y1="354" x2="586.3" y2="362.6" stroke="#000" stroke-width="3"/>
<line x1="601.8" y1="354" x2="601.8" y2="356.5" stroke="#000" stroke-width="2.6"/>
<line x1="617.3" y1="354" x2="617.3" y2="356.5" stroke="#000" stroke-width="2.6"/>
<line x1="632.7" y1="354" x2="632.7" y2="356.5" stroke="#000" stroke-width="2.6"/>
<line x1="648.2" y1="354" x2="648.2" y2="356.5" stroke="#000" stroke-width="2.6"/>
<line x1="100.8" y1="17.4" x2="104" y2="17.4" stroke="#000" stroke-width="2.6"/>
<line x1="94.7" y1="31.7" x2="104" y2="31.7" stroke="#000" stroke-width="2.8"/>
<line x1="100.8" y1="46.0" x2="104" y2="46.0" stroke="#000" stroke-width="2.6"/>
<line x1="100.8" y1="60.2" x2="104" y2="60.2" stroke="#000" stroke-width="2.6"/>
<line x1="100.8" y1="74.5" x2="104" y2="74.5" stroke="#000" stroke-width="2.6"/>
<line x1="100.8" y1="88.8" x2="104" y2="88.8" stroke="#000" stroke-width="2.6"/>
<line x1="94.7" y1="103.0" x2="104" y2="103.0" stroke="#000" stroke-width="2.8"/>
<line x1="100.8" y1="117.3" x2="104" y2="117.3" stroke="#000" stroke-width="2.6"/>
<line x1="100.8" y1="131.6" x2="104" y2="131.6" stroke="#000" stroke-width="2.6"/>
<line x1="100.8" y1="145.9" x2="104" y2="145.9" stroke="#000" stroke-width="2.6"/>
<line x1="100.8" y1="160.1" x2="104" y2="160.1" stroke="#000" stroke-width="2.6"/>
<line x1="94.7" y1="174.4" x2="104" y2="174.4" stroke="#000" stroke-width="2.8"/>
<line x1="100.8" y1="188.7" x2="104" y2="188.7" stroke="#000" stroke-width="2.6"/>
<line x1="100.8" y1="202.9" x2="104" y2="202.9" stroke="#000" stroke-width="2.6"/>
<line x1="100.8" y1="217.2" x2="104" y2="217.2" stroke="#000" stroke-width="2.6"/>
<line x1="100.8" y1="231.5" x2="104" y2="231.5" stroke="#000" stroke-width="2.6"/>
<line x1="94.7" y1="245.7" x2="104" y2="245.7" stroke="#000" stroke-width="2.8"/>
<line x1="100.8" y1="260.0" x2="104" y2="260.0" stroke="#000" stroke-width="2.6"/>
<line x1="100.8" y1="274.3" x2="104" y2="274.3" stroke="#000" stroke-width="2.6"/>
<line x1="100.8" y1="288.6" x2="104" y2="288.6" stroke="#000" stroke-width="2.6"/>
<line x1="100.8" y1="302.8" x2="104" y2="302.8" stroke="#000" stroke-width="2.6"/>
<line x1="94.7" y1="317.1" x2="104" y2="317.1" stroke="#000" stroke-width="2.8"/>
<line x1="100.8" y1="331.4" x2="104" y2="331.4" stroke="#000" stroke-width="2.6"/>
<line x1="100.8" y1="345.6" x2="104" y2="345.6" stroke="#000" stroke-width="2.6"/>
</g>
<g class="tk">
<text transform="translate(89.6 38.2) scale(1.04 1)" text-anchor="end">110</text>
<text transform="translate(89.6 109.5) scale(1.04 1)" text-anchor="end">115</text>
<text transform="translate(89.6 180.9) scale(1.04 1)" text-anchor="end">120</text>
<text transform="translate(89.6 252.2) scale(1.04 1)" text-anchor="end">125</text>
<text transform="translate(89.6 323.6) scale(1.04 1)" text-anchor="end">130</text>
<text transform="translate(122.0 384.4) scale(1.04 1)" text-anchor="middle">10.0</text>
<text transform="translate(199.4 384.4) scale(1.04 1)" text-anchor="middle">9.5</text>
<text transform="translate(276.8 384.4) scale(1.04 1)" text-anchor="middle">9.0</text>
<text transform="translate(354.2 384.4) scale(1.04 1)" text-anchor="middle">8.5</text>
<text transform="translate(431.6 384.4) scale(1.04 1)" text-anchor="middle">8.0</text>
<text transform="translate(508.9 384.4) scale(1.04 1)" text-anchor="middle">7.5</text>
<text transform="translate(586.3 384.4) scale(1.04 1)" text-anchor="middle">7.0</text>
</g>
<g class="tt">
<text transform="translate(308.2 420.3) scale(0.93 1)" font-size="35">δ</text>
<text transform="translate(327.2 421.6)" font-size="9.2" font-weight="bold">1</text>
<text transform="translate(333.0 427.7)" font-size="18.2">H</text>
<text transform="translate(357.4 420.3) scale(1.08 1)" font-size="35">(ppm)</text>
<g transform="rotate(-90)">
<text transform="translate(-257.6 28.9) scale(0.95 1)" font-size="35">δ</text>
<text transform="translate(-238.6 28.0) scale(1.06 1)" font-size="10" font-weight="bold">15</text>
<text transform="translate(-227.5 34.7)" font-size="18.3" stroke="#000" stroke-width="0.4">N</text>
<text transform="translate(-203.7 27.2) scale(1.041 1)" font-size="35">(ppm)</text>
</g>
</g>
</svg>
</body></html>
